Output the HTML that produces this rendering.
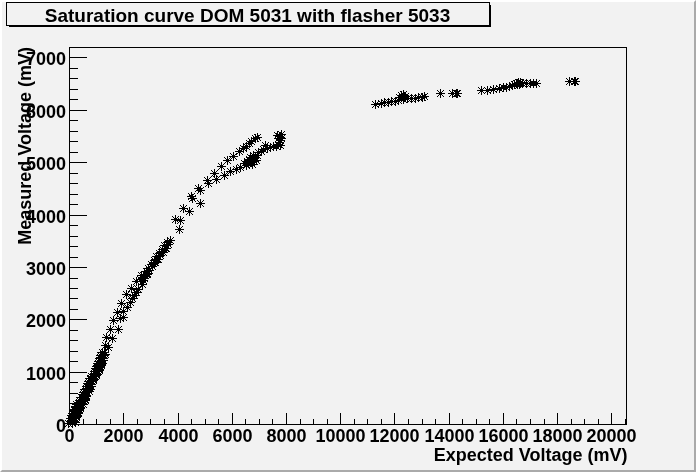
<!DOCTYPE html>
<html><head><meta charset="utf-8"><style>
html,body{margin:0;padding:0;background:#f2f2f2;}
svg{display:block;}
text{will-change:transform;}
text{font-family:"Liberation Sans",Arial,Helvetica,sans-serif;font-weight:bold;fill:#000;}
</style></head><body>
<svg width="696" height="472" viewBox="0 0 696 472">
<rect x="0" y="0" width="696" height="472" fill="#f2f2f2"/>
<path d="M0 0H696V2H2V472H0Z" fill="#ffffff"/>
<path d="M696 472H0L2 470H694V2L696 0Z" fill="#aaaaaa"/>
<path d="M9 26h482v1h-482zM490 5h1v22h-1z" fill="#000"/>
<rect x="6.5" y="2.5" width="483" height="23" fill="#f2f2f2" stroke="#000" stroke-width="1"/>
<text x="247.5" y="21.5" text-anchor="middle" style="font-size:19px">Saturation curve DOM 5031 with flasher 5033</text>
<g shape-rendering="crispEdges">
<path d="M69 47h1v378h-1zM626 47h1v378h-1zM69 47h558v1h-558zM69 424h558v1h-558zM69 413h1v11h-1zM83 419h1v5h-1zM96 419h1v5h-1zM110 419h1v5h-1zM123 413h1v11h-1zM137 419h1v5h-1zM150 419h1v5h-1zM164 419h1v5h-1zM178 413h1v11h-1zM191 419h1v5h-1zM205 419h1v5h-1zM218 419h1v5h-1zM232 413h1v11h-1zM245 419h1v5h-1zM259 419h1v5h-1zM272 419h1v5h-1zM286 413h1v11h-1zM300 419h1v5h-1zM313 419h1v5h-1zM327 419h1v5h-1zM340 413h1v11h-1zM354 419h1v5h-1zM367 419h1v5h-1zM381 419h1v5h-1zM394 413h1v11h-1zM408 419h1v5h-1zM422 419h1v5h-1zM435 419h1v5h-1zM449 413h1v11h-1zM462 419h1v5h-1zM476 419h1v5h-1zM489 419h1v5h-1zM503 413h1v11h-1zM516 419h1v5h-1zM530 419h1v5h-1zM544 419h1v5h-1zM557 413h1v11h-1zM571 419h1v5h-1zM584 419h1v5h-1zM598 419h1v5h-1zM611 413h1v11h-1zM625 419h1v5h-1zM69 424h18v1h-18zM69 414h9v1h-9zM69 403h9v1h-9zM69 393h9v1h-9zM69 382h9v1h-9zM69 372h18v1h-18zM69 361h9v1h-9zM69 351h9v1h-9zM69 340h9v1h-9zM69 330h9v1h-9zM69 319h18v1h-18zM69 309h9v1h-9zM69 298h9v1h-9zM69 288h9v1h-9zM69 278h9v1h-9zM69 267h18v1h-18zM69 257h9v1h-9zM69 246h9v1h-9zM69 236h9v1h-9zM69 225h9v1h-9zM69 215h18v1h-18zM69 204h9v1h-9zM69 194h9v1h-9zM69 183h9v1h-9zM69 173h9v1h-9zM69 162h18v1h-18zM69 152h9v1h-9zM69 141h9v1h-9zM69 131h9v1h-9zM69 120h9v1h-9zM69 110h18v1h-18zM69 99h9v1h-9zM69 89h9v1h-9zM69 78h9v1h-9zM69 68h9v1h-9zM69 57h18v1h-18zM69 47h9v1h-9z" fill="#000"/>
</g>
<g style="font-size:18px"><text x="69.5" y="442" text-anchor="middle">0</text><text x="123.5" y="442" text-anchor="middle">2000</text><text x="178.5" y="442" text-anchor="middle">4000</text><text x="232.5" y="442" text-anchor="middle">6000</text><text x="286.5" y="442" text-anchor="middle">8000</text><text x="340.5" y="442" text-anchor="middle">10000</text><text x="394.5" y="442" text-anchor="middle">12000</text><text x="449.5" y="442" text-anchor="middle">14000</text><text x="503.5" y="442" text-anchor="middle">16000</text><text x="557.5" y="442" text-anchor="middle">18000</text><text x="611.5" y="442" text-anchor="middle">20000</text><text x="66" y="431.5" text-anchor="end">0</text><text x="66" y="379.5" text-anchor="end">1000</text><text x="66" y="326.5" text-anchor="end">2000</text><text x="66" y="274.5" text-anchor="end">3000</text><text x="66" y="222.5" text-anchor="end">4000</text><text x="66" y="169.5" text-anchor="end">5000</text><text x="66" y="117.5" text-anchor="end">6000</text><text x="66" y="64.5" text-anchor="end">7000</text></g>
<text x="627.5" y="461" text-anchor="end" style="font-size:18px">Expected Voltage (mV)</text>
<text transform="translate(31,47) rotate(-90)" text-anchor="end" style="font-size:18px">Measured Voltage (mV)</text>
<g shape-rendering="crispEdges"><path d="M371 104h9v1h-9zM375 100h1v9h-1zM374 103h1v1h-1zM376 105h1v1h-1zM374 105h1v1h-1zM376 103h1v1h-1zM373 102h1v1h-1zM377 106h1v1h-1zM373 106h1v1h-1zM377 102h1v1h-1zM372 101h1v1h-1zM378 107h1v1h-1zM372 107h1v1h-1zM378 101h1v1h-1zM377 103h9v1h-9zM381 99h1v9h-1zM380 102h1v1h-1zM382 104h1v1h-1zM380 104h1v1h-1zM382 102h1v1h-1zM379 101h1v1h-1zM383 105h1v1h-1zM379 105h1v1h-1zM383 101h1v1h-1zM378 100h1v1h-1zM384 106h1v1h-1zM378 106h1v1h-1zM384 100h1v1h-1zM380 102h9v1h-9zM384 98h1v9h-1zM383 101h1v1h-1zM385 103h1v1h-1zM383 103h1v1h-1zM385 101h1v1h-1zM382 100h1v1h-1zM386 104h1v1h-1zM382 104h1v1h-1zM386 100h1v1h-1zM381 99h1v1h-1zM387 105h1v1h-1zM381 105h1v1h-1zM387 99h1v1h-1zM384 102h9v1h-9zM388 98h1v9h-1zM387 101h1v1h-1zM389 103h1v1h-1zM387 103h1v1h-1zM389 101h1v1h-1zM386 100h1v1h-1zM390 104h1v1h-1zM386 104h1v1h-1zM390 100h1v1h-1zM385 99h1v1h-1zM391 105h1v1h-1zM385 105h1v1h-1zM391 99h1v1h-1zM387 101h9v1h-9zM391 97h1v9h-1zM390 100h1v1h-1zM392 102h1v1h-1zM390 102h1v1h-1zM392 100h1v1h-1zM389 99h1v1h-1zM393 103h1v1h-1zM389 103h1v1h-1zM393 99h1v1h-1zM388 98h1v1h-1zM394 104h1v1h-1zM388 104h1v1h-1zM394 98h1v1h-1zM391 101h9v1h-9zM395 97h1v9h-1zM394 100h1v1h-1zM396 102h1v1h-1zM394 102h1v1h-1zM396 100h1v1h-1zM393 99h1v1h-1zM397 103h1v1h-1zM393 103h1v1h-1zM397 99h1v1h-1zM392 98h1v1h-1zM398 104h1v1h-1zM392 104h1v1h-1zM398 98h1v1h-1zM394 100h9v1h-9zM398 96h1v9h-1zM397 99h1v1h-1zM399 101h1v1h-1zM397 101h1v1h-1zM399 99h1v1h-1zM396 98h1v1h-1zM400 102h1v1h-1zM396 102h1v1h-1zM400 98h1v1h-1zM395 97h1v1h-1zM401 103h1v1h-1zM395 103h1v1h-1zM401 97h1v1h-1zM395 97h9v1h-9zM399 93h1v9h-1zM398 96h1v1h-1zM400 98h1v1h-1zM398 98h1v1h-1zM400 96h1v1h-1zM397 95h1v1h-1zM401 99h1v1h-1zM397 99h1v1h-1zM401 95h1v1h-1zM396 94h1v1h-1zM402 100h1v1h-1zM396 100h1v1h-1zM402 94h1v1h-1zM397 95h9v1h-9zM401 91h1v9h-1zM400 94h1v1h-1zM402 96h1v1h-1zM400 96h1v1h-1zM402 94h1v1h-1zM399 93h1v1h-1zM403 97h1v1h-1zM399 97h1v1h-1zM403 93h1v1h-1zM398 92h1v1h-1zM404 98h1v1h-1zM398 98h1v1h-1zM404 92h1v1h-1zM399 94h9v1h-9zM403 90h1v9h-1zM402 93h1v1h-1zM404 95h1v1h-1zM402 95h1v1h-1zM404 93h1v1h-1zM401 92h1v1h-1zM405 96h1v1h-1zM401 96h1v1h-1zM405 92h1v1h-1zM400 91h1v1h-1zM406 97h1v1h-1zM400 97h1v1h-1zM406 91h1v1h-1zM401 96h9v1h-9zM405 92h1v9h-1zM404 95h1v1h-1zM406 97h1v1h-1zM404 97h1v1h-1zM406 95h1v1h-1zM403 94h1v1h-1zM407 98h1v1h-1zM403 98h1v1h-1zM407 94h1v1h-1zM402 93h1v1h-1zM408 99h1v1h-1zM402 99h1v1h-1zM408 93h1v1h-1zM399 99h9v1h-9zM403 95h1v9h-1zM402 98h1v1h-1zM404 100h1v1h-1zM402 100h1v1h-1zM404 98h1v1h-1zM401 97h1v1h-1zM405 101h1v1h-1zM401 101h1v1h-1zM405 97h1v1h-1zM400 96h1v1h-1zM406 102h1v1h-1zM400 102h1v1h-1zM406 96h1v1h-1zM403 98h9v1h-9zM407 94h1v9h-1zM406 97h1v1h-1zM408 99h1v1h-1zM406 99h1v1h-1zM408 97h1v1h-1zM405 96h1v1h-1zM409 100h1v1h-1zM405 100h1v1h-1zM409 96h1v1h-1zM404 95h1v1h-1zM410 101h1v1h-1zM404 101h1v1h-1zM410 95h1v1h-1zM407 98h9v1h-9zM411 94h1v9h-1zM410 97h1v1h-1zM412 99h1v1h-1zM410 99h1v1h-1zM412 97h1v1h-1zM409 96h1v1h-1zM413 100h1v1h-1zM409 100h1v1h-1zM413 96h1v1h-1zM408 95h1v1h-1zM414 101h1v1h-1zM408 101h1v1h-1zM414 95h1v1h-1zM411 98h9v1h-9zM415 94h1v9h-1zM414 97h1v1h-1zM416 99h1v1h-1zM414 99h1v1h-1zM416 97h1v1h-1zM413 96h1v1h-1zM417 100h1v1h-1zM413 100h1v1h-1zM417 96h1v1h-1zM412 95h1v1h-1zM418 101h1v1h-1zM412 101h1v1h-1zM418 95h1v1h-1zM414 97h9v1h-9zM418 93h1v9h-1zM417 96h1v1h-1zM419 98h1v1h-1zM417 98h1v1h-1zM419 96h1v1h-1zM416 95h1v1h-1zM420 99h1v1h-1zM416 99h1v1h-1zM420 95h1v1h-1zM415 94h1v1h-1zM421 100h1v1h-1zM415 100h1v1h-1zM421 94h1v1h-1zM418 97h9v1h-9zM422 93h1v9h-1zM421 96h1v1h-1zM423 98h1v1h-1zM421 98h1v1h-1zM423 96h1v1h-1zM420 95h1v1h-1zM424 99h1v1h-1zM420 99h1v1h-1zM424 95h1v1h-1zM419 94h1v1h-1zM425 100h1v1h-1zM419 100h1v1h-1zM425 94h1v1h-1zM420 96h9v1h-9zM424 92h1v9h-1zM423 95h1v1h-1zM425 97h1v1h-1zM423 97h1v1h-1zM425 95h1v1h-1zM422 94h1v1h-1zM426 98h1v1h-1zM422 98h1v1h-1zM426 94h1v1h-1zM421 93h1v1h-1zM427 99h1v1h-1zM421 99h1v1h-1zM427 93h1v1h-1zM436 93h9v1h-9zM440 89h1v9h-1zM439 92h1v1h-1zM441 94h1v1h-1zM439 94h1v1h-1zM441 92h1v1h-1zM438 91h1v1h-1zM442 95h1v1h-1zM438 95h1v1h-1zM442 91h1v1h-1zM437 90h1v1h-1zM443 96h1v1h-1zM437 96h1v1h-1zM443 90h1v1h-1zM448 93h9v1h-9zM452 89h1v9h-1zM451 92h1v1h-1zM453 94h1v1h-1zM451 94h1v1h-1zM453 92h1v1h-1zM450 91h1v1h-1zM454 95h1v1h-1zM450 95h1v1h-1zM454 91h1v1h-1zM449 90h1v1h-1zM455 96h1v1h-1zM449 96h1v1h-1zM455 90h1v1h-1zM452 93h9v1h-9zM456 89h1v9h-1zM455 92h1v1h-1zM457 94h1v1h-1zM455 94h1v1h-1zM457 92h1v1h-1zM454 91h1v1h-1zM458 95h1v1h-1zM454 95h1v1h-1zM458 91h1v1h-1zM453 90h1v1h-1zM459 96h1v1h-1zM453 96h1v1h-1zM459 90h1v1h-1zM453 93h9v1h-9zM457 89h1v9h-1zM456 92h1v1h-1zM458 94h1v1h-1zM456 94h1v1h-1zM458 92h1v1h-1zM455 91h1v1h-1zM459 95h1v1h-1zM455 95h1v1h-1zM459 91h1v1h-1zM454 90h1v1h-1zM460 96h1v1h-1zM454 96h1v1h-1zM460 90h1v1h-1zM477 90h9v1h-9zM481 86h1v9h-1zM480 89h1v1h-1zM482 91h1v1h-1zM480 91h1v1h-1zM482 89h1v1h-1zM479 88h1v1h-1zM483 92h1v1h-1zM479 92h1v1h-1zM483 88h1v1h-1zM478 87h1v1h-1zM484 93h1v1h-1zM478 93h1v1h-1zM484 87h1v1h-1zM483 90h9v1h-9zM487 86h1v9h-1zM486 89h1v1h-1zM488 91h1v1h-1zM486 91h1v1h-1zM488 89h1v1h-1zM485 88h1v1h-1zM489 92h1v1h-1zM485 92h1v1h-1zM489 88h1v1h-1zM484 87h1v1h-1zM490 93h1v1h-1zM484 93h1v1h-1zM490 87h1v1h-1zM489 89h9v1h-9zM493 85h1v9h-1zM492 88h1v1h-1zM494 90h1v1h-1zM492 90h1v1h-1zM494 88h1v1h-1zM491 87h1v1h-1zM495 91h1v1h-1zM491 91h1v1h-1zM495 87h1v1h-1zM490 86h1v1h-1zM496 92h1v1h-1zM490 92h1v1h-1zM496 86h1v1h-1zM495 88h9v1h-9zM499 84h1v9h-1zM498 87h1v1h-1zM500 89h1v1h-1zM498 89h1v1h-1zM500 87h1v1h-1zM497 86h1v1h-1zM501 90h1v1h-1zM497 90h1v1h-1zM501 86h1v1h-1zM496 85h1v1h-1zM502 91h1v1h-1zM496 91h1v1h-1zM502 85h1v1h-1zM499 87h9v1h-9zM503 83h1v9h-1zM502 86h1v1h-1zM504 88h1v1h-1zM502 88h1v1h-1zM504 86h1v1h-1zM501 85h1v1h-1zM505 89h1v1h-1zM501 89h1v1h-1zM505 85h1v1h-1zM500 84h1v1h-1zM506 90h1v1h-1zM500 90h1v1h-1zM506 84h1v1h-1zM502 87h9v1h-9zM506 83h1v9h-1zM505 86h1v1h-1zM507 88h1v1h-1zM505 88h1v1h-1zM507 86h1v1h-1zM504 85h1v1h-1zM508 89h1v1h-1zM504 89h1v1h-1zM508 85h1v1h-1zM503 84h1v1h-1zM509 90h1v1h-1zM503 90h1v1h-1zM509 84h1v1h-1zM505 86h9v1h-9zM509 82h1v9h-1zM508 85h1v1h-1zM510 87h1v1h-1zM508 87h1v1h-1zM510 85h1v1h-1zM507 84h1v1h-1zM511 88h1v1h-1zM507 88h1v1h-1zM511 84h1v1h-1zM506 83h1v1h-1zM512 89h1v1h-1zM506 89h1v1h-1zM512 83h1v1h-1zM508 85h9v1h-9zM512 81h1v9h-1zM511 84h1v1h-1zM513 86h1v1h-1zM511 86h1v1h-1zM513 84h1v1h-1zM510 83h1v1h-1zM514 87h1v1h-1zM510 87h1v1h-1zM514 83h1v1h-1zM509 82h1v1h-1zM515 88h1v1h-1zM509 88h1v1h-1zM515 82h1v1h-1zM510 84h9v1h-9zM514 80h1v9h-1zM513 83h1v1h-1zM515 85h1v1h-1zM513 85h1v1h-1zM515 83h1v1h-1zM512 82h1v1h-1zM516 86h1v1h-1zM512 86h1v1h-1zM516 82h1v1h-1zM511 81h1v1h-1zM517 87h1v1h-1zM511 87h1v1h-1zM517 81h1v1h-1zM512 83h9v1h-9zM516 79h1v9h-1zM515 82h1v1h-1zM517 84h1v1h-1zM515 84h1v1h-1zM517 82h1v1h-1zM514 81h1v1h-1zM518 85h1v1h-1zM514 85h1v1h-1zM518 81h1v1h-1zM513 80h1v1h-1zM519 86h1v1h-1zM513 86h1v1h-1zM519 80h1v1h-1zM514 82h9v1h-9zM518 78h1v9h-1zM517 81h1v1h-1zM519 83h1v1h-1zM517 83h1v1h-1zM519 81h1v1h-1zM516 80h1v1h-1zM520 84h1v1h-1zM516 84h1v1h-1zM520 80h1v1h-1zM515 79h1v1h-1zM521 85h1v1h-1zM515 85h1v1h-1zM521 79h1v1h-1zM516 82h9v1h-9zM520 78h1v9h-1zM519 81h1v1h-1zM521 83h1v1h-1zM519 83h1v1h-1zM521 81h1v1h-1zM518 80h1v1h-1zM522 84h1v1h-1zM518 84h1v1h-1zM522 80h1v1h-1zM517 79h1v1h-1zM523 85h1v1h-1zM517 85h1v1h-1zM523 79h1v1h-1zM513 84h9v1h-9zM517 80h1v9h-1zM516 83h1v1h-1zM518 85h1v1h-1zM516 85h1v1h-1zM518 83h1v1h-1zM515 82h1v1h-1zM519 86h1v1h-1zM515 86h1v1h-1zM519 82h1v1h-1zM514 81h1v1h-1zM520 87h1v1h-1zM514 87h1v1h-1zM520 81h1v1h-1zM515 84h9v1h-9zM519 80h1v9h-1zM518 83h1v1h-1zM520 85h1v1h-1zM518 85h1v1h-1zM520 83h1v1h-1zM517 82h1v1h-1zM521 86h1v1h-1zM517 86h1v1h-1zM521 82h1v1h-1zM516 81h1v1h-1zM522 87h1v1h-1zM516 87h1v1h-1zM522 81h1v1h-1zM518 83h9v1h-9zM522 79h1v9h-1zM521 82h1v1h-1zM523 84h1v1h-1zM521 84h1v1h-1zM523 82h1v1h-1zM520 81h1v1h-1zM524 85h1v1h-1zM520 85h1v1h-1zM524 81h1v1h-1zM519 80h1v1h-1zM525 86h1v1h-1zM519 86h1v1h-1zM525 80h1v1h-1zM522 83h9v1h-9zM526 79h1v9h-1zM525 82h1v1h-1zM527 84h1v1h-1zM525 84h1v1h-1zM527 82h1v1h-1zM524 81h1v1h-1zM528 85h1v1h-1zM524 85h1v1h-1zM528 81h1v1h-1zM523 80h1v1h-1zM529 86h1v1h-1zM523 86h1v1h-1zM529 80h1v1h-1zM526 83h9v1h-9zM530 79h1v9h-1zM529 82h1v1h-1zM531 84h1v1h-1zM529 84h1v1h-1zM531 82h1v1h-1zM528 81h1v1h-1zM532 85h1v1h-1zM528 85h1v1h-1zM532 81h1v1h-1zM527 80h1v1h-1zM533 86h1v1h-1zM527 86h1v1h-1zM533 80h1v1h-1zM529 83h9v1h-9zM533 79h1v9h-1zM532 82h1v1h-1zM534 84h1v1h-1zM532 84h1v1h-1zM534 82h1v1h-1zM531 81h1v1h-1zM535 85h1v1h-1zM531 85h1v1h-1zM535 81h1v1h-1zM530 80h1v1h-1zM536 86h1v1h-1zM530 86h1v1h-1zM536 80h1v1h-1zM532 83h9v1h-9zM536 79h1v9h-1zM535 82h1v1h-1zM537 84h1v1h-1zM535 84h1v1h-1zM537 82h1v1h-1zM534 81h1v1h-1zM538 85h1v1h-1zM534 85h1v1h-1zM538 81h1v1h-1zM533 80h1v1h-1zM539 86h1v1h-1zM533 86h1v1h-1zM539 80h1v1h-1zM565 81h9v1h-9zM569 77h1v9h-1zM568 80h1v1h-1zM570 82h1v1h-1zM568 82h1v1h-1zM570 80h1v1h-1zM567 79h1v1h-1zM571 83h1v1h-1zM567 83h1v1h-1zM571 79h1v1h-1zM566 78h1v1h-1zM572 84h1v1h-1zM566 84h1v1h-1zM572 78h1v1h-1zM570 81h9v1h-9zM574 77h1v9h-1zM573 80h1v1h-1zM575 82h1v1h-1zM573 82h1v1h-1zM575 80h1v1h-1zM572 79h1v1h-1zM576 83h1v1h-1zM572 83h1v1h-1zM576 79h1v1h-1zM571 78h1v1h-1zM577 84h1v1h-1zM571 84h1v1h-1zM577 78h1v1h-1zM571 81h9v1h-9zM575 77h1v9h-1zM574 80h1v1h-1zM576 82h1v1h-1zM574 82h1v1h-1zM576 80h1v1h-1zM573 79h1v1h-1zM577 83h1v1h-1zM573 83h1v1h-1zM577 79h1v1h-1zM572 78h1v1h-1zM578 84h1v1h-1zM572 84h1v1h-1zM578 78h1v1h-1zM171 219h9v1h-9zM175 215h1v9h-1zM174 218h1v1h-1zM176 220h1v1h-1zM174 220h1v1h-1zM176 218h1v1h-1zM173 217h1v1h-1zM177 221h1v1h-1zM173 221h1v1h-1zM177 217h1v1h-1zM172 216h1v1h-1zM178 222h1v1h-1zM172 222h1v1h-1zM178 216h1v1h-1zM176 220h9v1h-9zM180 216h1v9h-1zM179 219h1v1h-1zM181 221h1v1h-1zM179 221h1v1h-1zM181 219h1v1h-1zM178 218h1v1h-1zM182 222h1v1h-1zM178 222h1v1h-1zM182 218h1v1h-1zM177 217h1v1h-1zM183 223h1v1h-1zM177 223h1v1h-1zM183 217h1v1h-1zM175 229h9v1h-9zM179 225h1v9h-1zM178 228h1v1h-1zM180 230h1v1h-1zM178 230h1v1h-1zM180 228h1v1h-1zM177 227h1v1h-1zM181 231h1v1h-1zM177 231h1v1h-1zM181 227h1v1h-1zM176 226h1v1h-1zM182 232h1v1h-1zM176 232h1v1h-1zM182 226h1v1h-1zM179 208h9v1h-9zM183 204h1v9h-1zM182 207h1v1h-1zM184 209h1v1h-1zM182 209h1v1h-1zM184 207h1v1h-1zM181 206h1v1h-1zM185 210h1v1h-1zM181 210h1v1h-1zM185 206h1v1h-1zM180 205h1v1h-1zM186 211h1v1h-1zM180 211h1v1h-1zM186 205h1v1h-1zM185 211h9v1h-9zM189 207h1v9h-1zM188 210h1v1h-1zM190 212h1v1h-1zM188 212h1v1h-1zM190 210h1v1h-1zM187 209h1v1h-1zM191 213h1v1h-1zM187 213h1v1h-1zM191 209h1v1h-1zM186 208h1v1h-1zM192 214h1v1h-1zM186 214h1v1h-1zM192 208h1v1h-1zM187 196h9v1h-9zM191 192h1v9h-1zM190 195h1v1h-1zM192 197h1v1h-1zM190 197h1v1h-1zM192 195h1v1h-1zM189 194h1v1h-1zM193 198h1v1h-1zM189 198h1v1h-1zM193 194h1v1h-1zM188 193h1v1h-1zM194 199h1v1h-1zM188 199h1v1h-1zM194 193h1v1h-1zM188 198h9v1h-9zM192 194h1v9h-1zM191 197h1v1h-1zM193 199h1v1h-1zM191 199h1v1h-1zM193 197h1v1h-1zM190 196h1v1h-1zM194 200h1v1h-1zM190 200h1v1h-1zM194 196h1v1h-1zM189 195h1v1h-1zM195 201h1v1h-1zM189 201h1v1h-1zM195 195h1v1h-1zM196 203h9v1h-9zM200 199h1v9h-1zM199 202h1v1h-1zM201 204h1v1h-1zM199 204h1v1h-1zM201 202h1v1h-1zM198 201h1v1h-1zM202 205h1v1h-1zM198 205h1v1h-1zM202 201h1v1h-1zM197 200h1v1h-1zM203 206h1v1h-1zM197 206h1v1h-1zM203 200h1v1h-1zM194 188h9v1h-9zM198 184h1v9h-1zM197 187h1v1h-1zM199 189h1v1h-1zM197 189h1v1h-1zM199 187h1v1h-1zM196 186h1v1h-1zM200 190h1v1h-1zM196 190h1v1h-1zM200 186h1v1h-1zM195 185h1v1h-1zM201 191h1v1h-1zM195 191h1v1h-1zM201 185h1v1h-1zM196 190h9v1h-9zM200 186h1v9h-1zM199 189h1v1h-1zM201 191h1v1h-1zM199 191h1v1h-1zM201 189h1v1h-1zM198 188h1v1h-1zM202 192h1v1h-1zM198 192h1v1h-1zM202 188h1v1h-1zM197 187h1v1h-1zM203 193h1v1h-1zM197 193h1v1h-1zM203 187h1v1h-1zM203 180h9v1h-9zM207 176h1v9h-1zM206 179h1v1h-1zM208 181h1v1h-1zM206 181h1v1h-1zM208 179h1v1h-1zM205 178h1v1h-1zM209 182h1v1h-1zM205 182h1v1h-1zM209 178h1v1h-1zM204 177h1v1h-1zM210 183h1v1h-1zM204 183h1v1h-1zM210 177h1v1h-1zM204 183h9v1h-9zM208 179h1v9h-1zM207 182h1v1h-1zM209 184h1v1h-1zM207 184h1v1h-1zM209 182h1v1h-1zM206 181h1v1h-1zM210 185h1v1h-1zM206 185h1v1h-1zM210 181h1v1h-1zM205 180h1v1h-1zM211 186h1v1h-1zM205 186h1v1h-1zM211 180h1v1h-1zM210 173h9v1h-9zM214 169h1v9h-1zM213 172h1v1h-1zM215 174h1v1h-1zM213 174h1v1h-1zM215 172h1v1h-1zM212 171h1v1h-1zM216 175h1v1h-1zM212 175h1v1h-1zM216 171h1v1h-1zM211 170h1v1h-1zM217 176h1v1h-1zM211 176h1v1h-1zM217 170h1v1h-1zM212 179h9v1h-9zM216 175h1v9h-1zM215 178h1v1h-1zM217 180h1v1h-1zM215 180h1v1h-1zM217 178h1v1h-1zM214 177h1v1h-1zM218 181h1v1h-1zM214 181h1v1h-1zM218 177h1v1h-1zM213 176h1v1h-1zM219 182h1v1h-1zM213 182h1v1h-1zM219 176h1v1h-1zM217 166h9v1h-9zM221 162h1v9h-1zM220 165h1v1h-1zM222 167h1v1h-1zM220 167h1v1h-1zM222 165h1v1h-1zM219 164h1v1h-1zM223 168h1v1h-1zM219 168h1v1h-1zM223 164h1v1h-1zM218 163h1v1h-1zM224 169h1v1h-1zM218 169h1v1h-1zM224 163h1v1h-1zM220 175h9v1h-9zM224 171h1v9h-1zM223 174h1v1h-1zM225 176h1v1h-1zM223 176h1v1h-1zM225 174h1v1h-1zM222 173h1v1h-1zM226 177h1v1h-1zM222 177h1v1h-1zM226 173h1v1h-1zM221 172h1v1h-1zM227 178h1v1h-1zM221 178h1v1h-1zM227 172h1v1h-1zM223 160h9v1h-9zM227 156h1v9h-1zM226 159h1v1h-1zM228 161h1v1h-1zM226 161h1v1h-1zM228 159h1v1h-1zM225 158h1v1h-1zM229 162h1v1h-1zM225 162h1v1h-1zM229 158h1v1h-1zM224 157h1v1h-1zM230 163h1v1h-1zM224 163h1v1h-1zM230 157h1v1h-1zM226 171h9v1h-9zM230 167h1v9h-1zM229 170h1v1h-1zM231 172h1v1h-1zM229 172h1v1h-1zM231 170h1v1h-1zM228 169h1v1h-1zM232 173h1v1h-1zM228 173h1v1h-1zM232 169h1v1h-1zM227 168h1v1h-1zM233 174h1v1h-1zM227 174h1v1h-1zM233 168h1v1h-1zM229 156h9v1h-9zM233 152h1v9h-1zM232 155h1v1h-1zM234 157h1v1h-1zM232 157h1v1h-1zM234 155h1v1h-1zM231 154h1v1h-1zM235 158h1v1h-1zM231 158h1v1h-1zM235 154h1v1h-1zM230 153h1v1h-1zM236 159h1v1h-1zM230 159h1v1h-1zM236 153h1v1h-1zM232 169h9v1h-9zM236 165h1v9h-1zM235 168h1v1h-1zM237 170h1v1h-1zM235 170h1v1h-1zM237 168h1v1h-1zM234 167h1v1h-1zM238 171h1v1h-1zM234 171h1v1h-1zM238 167h1v1h-1zM233 166h1v1h-1zM239 172h1v1h-1zM233 172h1v1h-1zM239 166h1v1h-1zM235 151h9v1h-9zM239 147h1v9h-1zM238 150h1v1h-1zM240 152h1v1h-1zM238 152h1v1h-1zM240 150h1v1h-1zM237 149h1v1h-1zM241 153h1v1h-1zM237 153h1v1h-1zM241 149h1v1h-1zM236 148h1v1h-1zM242 154h1v1h-1zM236 154h1v1h-1zM242 148h1v1h-1zM236 167h9v1h-9zM240 163h1v9h-1zM239 166h1v1h-1zM241 168h1v1h-1zM239 168h1v1h-1zM241 166h1v1h-1zM238 165h1v1h-1zM242 169h1v1h-1zM238 169h1v1h-1zM242 165h1v1h-1zM237 164h1v1h-1zM243 170h1v1h-1zM237 170h1v1h-1zM243 164h1v1h-1zM239 148h9v1h-9zM243 144h1v9h-1zM242 147h1v1h-1zM244 149h1v1h-1zM242 149h1v1h-1zM244 147h1v1h-1zM241 146h1v1h-1zM245 150h1v1h-1zM241 150h1v1h-1zM245 146h1v1h-1zM240 145h1v1h-1zM246 151h1v1h-1zM240 151h1v1h-1zM246 145h1v1h-1zM242 146h9v1h-9zM246 142h1v9h-1zM245 145h1v1h-1zM247 147h1v1h-1zM245 147h1v1h-1zM247 145h1v1h-1zM244 144h1v1h-1zM248 148h1v1h-1zM244 148h1v1h-1zM248 144h1v1h-1zM243 143h1v1h-1zM249 149h1v1h-1zM243 149h1v1h-1zM249 143h1v1h-1zM245 143h9v1h-9zM249 139h1v9h-1zM248 142h1v1h-1zM250 144h1v1h-1zM248 144h1v1h-1zM250 142h1v1h-1zM247 141h1v1h-1zM251 145h1v1h-1zM247 145h1v1h-1zM251 141h1v1h-1zM246 140h1v1h-1zM252 146h1v1h-1zM246 146h1v1h-1zM252 140h1v1h-1zM247 141h9v1h-9zM251 137h1v9h-1zM250 140h1v1h-1zM252 142h1v1h-1zM250 142h1v1h-1zM252 140h1v1h-1zM249 139h1v1h-1zM253 143h1v1h-1zM249 143h1v1h-1zM253 139h1v1h-1zM248 138h1v1h-1zM254 144h1v1h-1zM248 144h1v1h-1zM254 138h1v1h-1zM251 138h9v1h-9zM255 134h1v9h-1zM254 137h1v1h-1zM256 139h1v1h-1zM254 139h1v1h-1zM256 137h1v1h-1zM253 136h1v1h-1zM257 140h1v1h-1zM253 140h1v1h-1zM257 136h1v1h-1zM252 135h1v1h-1zM258 141h1v1h-1zM252 141h1v1h-1zM258 135h1v1h-1zM253 137h9v1h-9zM257 133h1v9h-1zM256 136h1v1h-1zM258 138h1v1h-1zM256 138h1v1h-1zM258 136h1v1h-1zM255 135h1v1h-1zM259 139h1v1h-1zM255 139h1v1h-1zM259 135h1v1h-1zM254 134h1v1h-1zM260 140h1v1h-1zM254 140h1v1h-1zM260 134h1v1h-1zM240 163h9v1h-9zM244 159h1v9h-1zM243 162h1v1h-1zM245 164h1v1h-1zM243 164h1v1h-1zM245 162h1v1h-1zM242 161h1v1h-1zM246 165h1v1h-1zM242 165h1v1h-1zM246 161h1v1h-1zM241 160h1v1h-1zM247 166h1v1h-1zM241 166h1v1h-1zM247 160h1v1h-1zM242 165h9v1h-9zM246 161h1v9h-1zM245 164h1v1h-1zM247 166h1v1h-1zM245 166h1v1h-1zM247 164h1v1h-1zM244 163h1v1h-1zM248 167h1v1h-1zM244 167h1v1h-1zM248 163h1v1h-1zM243 162h1v1h-1zM249 168h1v1h-1zM243 168h1v1h-1zM249 162h1v1h-1zM243 161h9v1h-9zM247 157h1v9h-1zM246 160h1v1h-1zM248 162h1v1h-1zM246 162h1v1h-1zM248 160h1v1h-1zM245 159h1v1h-1zM249 163h1v1h-1zM245 163h1v1h-1zM249 159h1v1h-1zM244 158h1v1h-1zM250 164h1v1h-1zM244 164h1v1h-1zM250 158h1v1h-1zM244 163h9v1h-9zM248 159h1v9h-1zM247 162h1v1h-1zM249 164h1v1h-1zM247 164h1v1h-1zM249 162h1v1h-1zM246 161h1v1h-1zM250 165h1v1h-1zM246 165h1v1h-1zM250 161h1v1h-1zM245 160h1v1h-1zM251 166h1v1h-1zM245 166h1v1h-1zM251 160h1v1h-1zM245 159h9v1h-9zM249 155h1v9h-1zM248 158h1v1h-1zM250 160h1v1h-1zM248 160h1v1h-1zM250 158h1v1h-1zM247 157h1v1h-1zM251 161h1v1h-1zM247 161h1v1h-1zM251 157h1v1h-1zM246 156h1v1h-1zM252 162h1v1h-1zM246 162h1v1h-1zM252 156h1v1h-1zM246 162h9v1h-9zM250 158h1v9h-1zM249 161h1v1h-1zM251 163h1v1h-1zM249 163h1v1h-1zM251 161h1v1h-1zM248 160h1v1h-1zM252 164h1v1h-1zM248 164h1v1h-1zM252 160h1v1h-1zM247 159h1v1h-1zM253 165h1v1h-1zM247 165h1v1h-1zM253 159h1v1h-1zM247 160h9v1h-9zM251 156h1v9h-1zM250 159h1v1h-1zM252 161h1v1h-1zM250 161h1v1h-1zM252 159h1v1h-1zM249 158h1v1h-1zM253 162h1v1h-1zM249 162h1v1h-1zM253 158h1v1h-1zM248 157h1v1h-1zM254 163h1v1h-1zM248 163h1v1h-1zM254 157h1v1h-1zM248 164h9v1h-9zM252 160h1v9h-1zM251 163h1v1h-1zM253 165h1v1h-1zM251 165h1v1h-1zM253 163h1v1h-1zM250 162h1v1h-1zM254 166h1v1h-1zM250 166h1v1h-1zM254 162h1v1h-1zM249 161h1v1h-1zM255 167h1v1h-1zM249 167h1v1h-1zM255 161h1v1h-1zM249 158h9v1h-9zM253 154h1v9h-1zM252 157h1v1h-1zM254 159h1v1h-1zM252 159h1v1h-1zM254 157h1v1h-1zM251 156h1v1h-1zM255 160h1v1h-1zM251 160h1v1h-1zM255 156h1v1h-1zM250 155h1v1h-1zM256 161h1v1h-1zM250 161h1v1h-1zM256 155h1v1h-1zM250 161h9v1h-9zM254 157h1v9h-1zM253 160h1v1h-1zM255 162h1v1h-1zM253 162h1v1h-1zM255 160h1v1h-1zM252 159h1v1h-1zM256 163h1v1h-1zM252 163h1v1h-1zM256 159h1v1h-1zM251 158h1v1h-1zM257 164h1v1h-1zM251 164h1v1h-1zM257 158h1v1h-1zM251 157h9v1h-9zM255 153h1v9h-1zM254 156h1v1h-1zM256 158h1v1h-1zM254 158h1v1h-1zM256 156h1v1h-1zM253 155h1v1h-1zM257 159h1v1h-1zM253 159h1v1h-1zM257 155h1v1h-1zM252 154h1v1h-1zM258 160h1v1h-1zM252 160h1v1h-1zM258 154h1v1h-1zM252 160h9v1h-9zM256 156h1v9h-1zM255 159h1v1h-1zM257 161h1v1h-1zM255 161h1v1h-1zM257 159h1v1h-1zM254 158h1v1h-1zM258 162h1v1h-1zM254 162h1v1h-1zM258 158h1v1h-1zM253 157h1v1h-1zM259 163h1v1h-1zM253 163h1v1h-1zM259 157h1v1h-1zM253 155h9v1h-9zM257 151h1v9h-1zM256 154h1v1h-1zM258 156h1v1h-1zM256 156h1v1h-1zM258 154h1v1h-1zM255 153h1v1h-1zM259 157h1v1h-1zM255 157h1v1h-1zM259 153h1v1h-1zM254 152h1v1h-1zM260 158h1v1h-1zM254 158h1v1h-1zM260 152h1v1h-1zM249 155h9v1h-9zM253 151h1v9h-1zM252 154h1v1h-1zM254 156h1v1h-1zM252 156h1v1h-1zM254 154h1v1h-1zM251 153h1v1h-1zM255 157h1v1h-1zM251 157h1v1h-1zM255 153h1v1h-1zM250 152h1v1h-1zM256 158h1v1h-1zM250 158h1v1h-1zM256 152h1v1h-1zM246 157h9v1h-9zM250 153h1v9h-1zM249 156h1v1h-1zM251 158h1v1h-1zM249 158h1v1h-1zM251 156h1v1h-1zM248 155h1v1h-1zM252 159h1v1h-1zM248 159h1v1h-1zM252 155h1v1h-1zM247 154h1v1h-1zM253 160h1v1h-1zM247 160h1v1h-1zM253 154h1v1h-1zM254 152h9v1h-9zM258 148h1v9h-1zM257 151h1v1h-1zM259 153h1v1h-1zM257 153h1v1h-1zM259 151h1v1h-1zM256 150h1v1h-1zM260 154h1v1h-1zM256 154h1v1h-1zM260 150h1v1h-1zM255 149h1v1h-1zM261 155h1v1h-1zM255 155h1v1h-1zM261 149h1v1h-1zM257 151h9v1h-9zM261 147h1v9h-1zM260 150h1v1h-1zM262 152h1v1h-1zM260 152h1v1h-1zM262 150h1v1h-1zM259 149h1v1h-1zM263 153h1v1h-1zM259 153h1v1h-1zM263 149h1v1h-1zM258 148h1v1h-1zM264 154h1v1h-1zM258 154h1v1h-1zM264 148h1v1h-1zM259 149h9v1h-9zM263 145h1v9h-1zM262 148h1v1h-1zM264 150h1v1h-1zM262 150h1v1h-1zM264 148h1v1h-1zM261 147h1v1h-1zM265 151h1v1h-1zM261 151h1v1h-1zM265 147h1v1h-1zM260 146h1v1h-1zM266 152h1v1h-1zM260 152h1v1h-1zM266 146h1v1h-1zM261 145h9v1h-9zM265 141h1v9h-1zM264 144h1v1h-1zM266 146h1v1h-1zM264 146h1v1h-1zM266 144h1v1h-1zM263 143h1v1h-1zM267 147h1v1h-1zM263 147h1v1h-1zM267 143h1v1h-1zM262 142h1v1h-1zM268 148h1v1h-1zM262 148h1v1h-1zM268 142h1v1h-1zM263 148h9v1h-9zM267 144h1v9h-1zM266 147h1v1h-1zM268 149h1v1h-1zM266 149h1v1h-1zM268 147h1v1h-1zM265 146h1v1h-1zM269 150h1v1h-1zM265 150h1v1h-1zM269 146h1v1h-1zM264 145h1v1h-1zM270 151h1v1h-1zM264 151h1v1h-1zM270 145h1v1h-1zM266 147h9v1h-9zM270 143h1v9h-1zM269 146h1v1h-1zM271 148h1v1h-1zM269 148h1v1h-1zM271 146h1v1h-1zM268 145h1v1h-1zM272 149h1v1h-1zM268 149h1v1h-1zM272 145h1v1h-1zM267 144h1v1h-1zM273 150h1v1h-1zM267 150h1v1h-1zM273 144h1v1h-1zM269 146h9v1h-9zM273 142h1v9h-1zM272 145h1v1h-1zM274 147h1v1h-1zM272 147h1v1h-1zM274 145h1v1h-1zM271 144h1v1h-1zM275 148h1v1h-1zM271 148h1v1h-1zM275 144h1v1h-1zM270 143h1v1h-1zM276 149h1v1h-1zM270 149h1v1h-1zM276 143h1v1h-1zM272 146h9v1h-9zM276 142h1v9h-1zM275 145h1v1h-1zM277 147h1v1h-1zM275 147h1v1h-1zM277 145h1v1h-1zM274 144h1v1h-1zM278 148h1v1h-1zM274 148h1v1h-1zM278 144h1v1h-1zM273 143h1v1h-1zM279 149h1v1h-1zM273 149h1v1h-1zM279 143h1v1h-1zM274 144h9v1h-9zM278 140h1v9h-1zM277 143h1v1h-1zM279 145h1v1h-1zM277 145h1v1h-1zM279 143h1v1h-1zM276 142h1v1h-1zM280 146h1v1h-1zM276 146h1v1h-1zM280 142h1v1h-1zM275 141h1v1h-1zM281 147h1v1h-1zM275 147h1v1h-1zM281 141h1v1h-1zM276 145h9v1h-9zM280 141h1v9h-1zM279 144h1v1h-1zM281 146h1v1h-1zM279 146h1v1h-1zM281 144h1v1h-1zM278 143h1v1h-1zM282 147h1v1h-1zM278 147h1v1h-1zM282 143h1v1h-1zM277 142h1v1h-1zM283 148h1v1h-1zM277 148h1v1h-1zM283 142h1v1h-1zM275 142h9v1h-9zM279 138h1v9h-1zM278 141h1v1h-1zM280 143h1v1h-1zM278 143h1v1h-1zM280 141h1v1h-1zM277 140h1v1h-1zM281 144h1v1h-1zM277 144h1v1h-1zM281 140h1v1h-1zM276 139h1v1h-1zM282 145h1v1h-1zM276 145h1v1h-1zM282 139h1v1h-1zM276 140h9v1h-9zM280 136h1v9h-1zM279 139h1v1h-1zM281 141h1v1h-1zM279 141h1v1h-1zM281 139h1v1h-1zM278 138h1v1h-1zM282 142h1v1h-1zM278 142h1v1h-1zM282 138h1v1h-1zM277 137h1v1h-1zM283 143h1v1h-1zM277 143h1v1h-1zM283 137h1v1h-1zM274 138h9v1h-9zM278 134h1v9h-1zM277 137h1v1h-1zM279 139h1v1h-1zM277 139h1v1h-1zM279 137h1v1h-1zM276 136h1v1h-1zM280 140h1v1h-1zM276 140h1v1h-1zM280 136h1v1h-1zM275 135h1v1h-1zM281 141h1v1h-1zM275 141h1v1h-1zM281 135h1v1h-1zM277 138h9v1h-9zM281 134h1v9h-1zM280 137h1v1h-1zM282 139h1v1h-1zM280 139h1v1h-1zM282 137h1v1h-1zM279 136h1v1h-1zM283 140h1v1h-1zM279 140h1v1h-1zM283 136h1v1h-1zM278 135h1v1h-1zM284 141h1v1h-1zM278 141h1v1h-1zM284 135h1v1h-1zM275 136h9v1h-9zM279 132h1v9h-1zM278 135h1v1h-1zM280 137h1v1h-1zM278 137h1v1h-1zM280 135h1v1h-1zM277 134h1v1h-1zM281 138h1v1h-1zM277 138h1v1h-1zM281 134h1v1h-1zM276 133h1v1h-1zM282 139h1v1h-1zM276 139h1v1h-1zM282 133h1v1h-1zM273 135h9v1h-9zM277 131h1v9h-1zM276 134h1v1h-1zM278 136h1v1h-1zM276 136h1v1h-1zM278 134h1v1h-1zM275 133h1v1h-1zM279 137h1v1h-1zM275 137h1v1h-1zM279 133h1v1h-1zM274 132h1v1h-1zM280 138h1v1h-1zM274 138h1v1h-1zM280 132h1v1h-1zM277 134h9v1h-9zM281 130h1v9h-1zM280 133h1v1h-1zM282 135h1v1h-1zM280 135h1v1h-1zM282 133h1v1h-1zM279 132h1v1h-1zM283 136h1v1h-1zM279 136h1v1h-1zM283 132h1v1h-1zM278 131h1v1h-1zM284 137h1v1h-1zM278 137h1v1h-1zM284 131h1v1h-1zM64 423h9v1h-9zM68 419h1v9h-1zM67 422h1v1h-1zM69 424h1v1h-1zM67 424h1v1h-1zM69 422h1v1h-1zM66 421h1v1h-1zM70 425h1v1h-1zM66 425h1v1h-1zM70 421h1v1h-1zM65 420h1v1h-1zM71 426h1v1h-1zM65 426h1v1h-1zM71 420h1v1h-1zM71 422h9v1h-9zM75 418h1v9h-1zM74 421h1v1h-1zM76 423h1v1h-1zM74 423h1v1h-1zM76 421h1v1h-1zM73 420h1v1h-1zM77 424h1v1h-1zM73 424h1v1h-1zM77 420h1v1h-1zM72 419h1v1h-1zM78 425h1v1h-1zM72 425h1v1h-1zM78 419h1v1h-1zM68 423h9v1h-9zM72 419h1v9h-1zM71 422h1v1h-1zM73 424h1v1h-1zM71 424h1v1h-1zM73 422h1v1h-1zM70 421h1v1h-1zM74 425h1v1h-1zM70 425h1v1h-1zM74 421h1v1h-1zM69 420h1v1h-1zM75 426h1v1h-1zM69 426h1v1h-1zM75 420h1v1h-1zM67 420h9v1h-9zM71 416h1v9h-1zM70 419h1v1h-1zM72 421h1v1h-1zM70 421h1v1h-1zM72 419h1v1h-1zM69 418h1v1h-1zM73 422h1v1h-1zM69 422h1v1h-1zM73 418h1v1h-1zM68 417h1v1h-1zM74 423h1v1h-1zM68 423h1v1h-1zM74 417h1v1h-1zM70 421h9v1h-9zM74 417h1v9h-1zM73 420h1v1h-1zM75 422h1v1h-1zM73 422h1v1h-1zM75 420h1v1h-1zM72 419h1v1h-1zM76 423h1v1h-1zM72 423h1v1h-1zM76 419h1v1h-1zM71 418h1v1h-1zM77 424h1v1h-1zM71 424h1v1h-1zM77 418h1v1h-1zM67 420h9v1h-9zM71 416h1v9h-1zM70 419h1v1h-1zM72 421h1v1h-1zM70 421h1v1h-1zM72 419h1v1h-1zM69 418h1v1h-1zM73 422h1v1h-1zM69 422h1v1h-1zM73 418h1v1h-1zM68 417h1v1h-1zM74 423h1v1h-1zM68 423h1v1h-1zM74 417h1v1h-1zM71 418h9v1h-9zM75 414h1v9h-1zM74 417h1v1h-1zM76 419h1v1h-1zM74 419h1v1h-1zM76 417h1v1h-1zM73 416h1v1h-1zM77 420h1v1h-1zM73 420h1v1h-1zM77 416h1v1h-1zM72 415h1v1h-1zM78 421h1v1h-1zM72 421h1v1h-1zM78 415h1v1h-1zM66 418h9v1h-9zM70 414h1v9h-1zM69 417h1v1h-1zM71 419h1v1h-1zM69 419h1v1h-1zM71 417h1v1h-1zM68 416h1v1h-1zM72 420h1v1h-1zM68 420h1v1h-1zM72 416h1v1h-1zM67 415h1v1h-1zM73 421h1v1h-1zM67 421h1v1h-1zM73 415h1v1h-1zM72 417h9v1h-9zM76 413h1v9h-1zM75 416h1v1h-1zM77 418h1v1h-1zM75 418h1v1h-1zM77 416h1v1h-1zM74 415h1v1h-1zM78 419h1v1h-1zM74 419h1v1h-1zM78 415h1v1h-1zM73 414h1v1h-1zM79 420h1v1h-1zM73 420h1v1h-1zM79 414h1v1h-1zM70 418h9v1h-9zM74 414h1v9h-1zM73 417h1v1h-1zM75 419h1v1h-1zM73 419h1v1h-1zM75 417h1v1h-1zM72 416h1v1h-1zM76 420h1v1h-1zM72 420h1v1h-1zM76 416h1v1h-1zM71 415h1v1h-1zM77 421h1v1h-1zM71 421h1v1h-1zM77 415h1v1h-1zM68 415h9v1h-9zM72 411h1v9h-1zM71 414h1v1h-1zM73 416h1v1h-1zM71 416h1v1h-1zM73 414h1v1h-1zM70 413h1v1h-1zM74 417h1v1h-1zM70 417h1v1h-1zM74 413h1v1h-1zM69 412h1v1h-1zM75 418h1v1h-1zM69 418h1v1h-1zM75 412h1v1h-1zM72 416h9v1h-9zM76 412h1v9h-1zM75 415h1v1h-1zM77 417h1v1h-1zM75 417h1v1h-1zM77 415h1v1h-1zM74 414h1v1h-1zM78 418h1v1h-1zM74 418h1v1h-1zM78 414h1v1h-1zM73 413h1v1h-1zM79 419h1v1h-1zM73 419h1v1h-1zM79 413h1v1h-1zM69 416h9v1h-9zM73 412h1v9h-1zM72 415h1v1h-1zM74 417h1v1h-1zM72 417h1v1h-1zM74 415h1v1h-1zM71 414h1v1h-1zM75 418h1v1h-1zM71 418h1v1h-1zM75 414h1v1h-1zM70 413h1v1h-1zM76 419h1v1h-1zM70 419h1v1h-1zM76 413h1v1h-1zM73 413h9v1h-9zM77 409h1v9h-1zM76 412h1v1h-1zM78 414h1v1h-1zM76 414h1v1h-1zM78 412h1v1h-1zM75 411h1v1h-1zM79 415h1v1h-1zM75 415h1v1h-1zM79 411h1v1h-1zM74 410h1v1h-1zM80 416h1v1h-1zM74 416h1v1h-1zM80 410h1v1h-1zM68 413h9v1h-9zM72 409h1v9h-1zM71 412h1v1h-1zM73 414h1v1h-1zM71 414h1v1h-1zM73 412h1v1h-1zM70 411h1v1h-1zM74 415h1v1h-1zM70 415h1v1h-1zM74 411h1v1h-1zM69 410h1v1h-1zM75 416h1v1h-1zM69 416h1v1h-1zM75 410h1v1h-1zM74 413h9v1h-9zM78 409h1v9h-1zM77 412h1v1h-1zM79 414h1v1h-1zM77 414h1v1h-1zM79 412h1v1h-1zM76 411h1v1h-1zM80 415h1v1h-1zM76 415h1v1h-1zM80 411h1v1h-1zM75 410h1v1h-1zM81 416h1v1h-1zM75 416h1v1h-1zM81 410h1v1h-1zM72 413h9v1h-9zM76 409h1v9h-1zM75 412h1v1h-1zM77 414h1v1h-1zM75 414h1v1h-1zM77 412h1v1h-1zM74 411h1v1h-1zM78 415h1v1h-1zM74 415h1v1h-1zM78 411h1v1h-1zM73 410h1v1h-1zM79 416h1v1h-1zM73 416h1v1h-1zM79 410h1v1h-1zM70 410h9v1h-9zM74 406h1v9h-1zM73 409h1v1h-1zM75 411h1v1h-1zM73 411h1v1h-1zM75 409h1v1h-1zM72 408h1v1h-1zM76 412h1v1h-1zM72 412h1v1h-1zM76 408h1v1h-1zM71 407h1v1h-1zM77 413h1v1h-1zM71 413h1v1h-1zM77 407h1v1h-1zM74 412h9v1h-9zM78 408h1v9h-1zM77 411h1v1h-1zM79 413h1v1h-1zM77 413h1v1h-1zM79 411h1v1h-1zM76 410h1v1h-1zM80 414h1v1h-1zM76 414h1v1h-1zM80 410h1v1h-1zM75 409h1v1h-1zM81 415h1v1h-1zM75 415h1v1h-1zM81 409h1v1h-1zM71 411h9v1h-9zM75 407h1v9h-1zM74 410h1v1h-1zM76 412h1v1h-1zM74 412h1v1h-1zM76 410h1v1h-1zM73 409h1v1h-1zM77 413h1v1h-1zM73 413h1v1h-1zM77 409h1v1h-1zM72 408h1v1h-1zM78 414h1v1h-1zM72 414h1v1h-1zM78 408h1v1h-1zM75 409h9v1h-9zM79 405h1v9h-1zM78 408h1v1h-1zM80 410h1v1h-1zM78 410h1v1h-1zM80 408h1v1h-1zM77 407h1v1h-1zM81 411h1v1h-1zM77 411h1v1h-1zM81 407h1v1h-1zM76 406h1v1h-1zM82 412h1v1h-1zM76 412h1v1h-1zM82 406h1v1h-1zM70 409h9v1h-9zM74 405h1v9h-1zM73 408h1v1h-1zM75 410h1v1h-1zM73 410h1v1h-1zM75 408h1v1h-1zM72 407h1v1h-1zM76 411h1v1h-1zM72 411h1v1h-1zM76 407h1v1h-1zM71 406h1v1h-1zM77 412h1v1h-1zM71 412h1v1h-1zM77 406h1v1h-1zM76 408h9v1h-9zM80 404h1v9h-1zM79 407h1v1h-1zM81 409h1v1h-1zM79 409h1v1h-1zM81 407h1v1h-1zM78 406h1v1h-1zM82 410h1v1h-1zM78 410h1v1h-1zM82 406h1v1h-1zM77 405h1v1h-1zM83 411h1v1h-1zM77 411h1v1h-1zM83 405h1v1h-1zM74 409h9v1h-9zM78 405h1v9h-1zM77 408h1v1h-1zM79 410h1v1h-1zM77 410h1v1h-1zM79 408h1v1h-1zM76 407h1v1h-1zM80 411h1v1h-1zM76 411h1v1h-1zM80 407h1v1h-1zM75 406h1v1h-1zM81 412h1v1h-1zM75 412h1v1h-1zM81 406h1v1h-1zM72 406h9v1h-9zM76 402h1v9h-1zM75 405h1v1h-1zM77 407h1v1h-1zM75 407h1v1h-1zM77 405h1v1h-1zM74 404h1v1h-1zM78 408h1v1h-1zM74 408h1v1h-1zM78 404h1v1h-1zM73 403h1v1h-1zM79 409h1v1h-1zM73 409h1v1h-1zM79 403h1v1h-1zM76 407h9v1h-9zM80 403h1v9h-1zM79 406h1v1h-1zM81 408h1v1h-1zM79 408h1v1h-1zM81 406h1v1h-1zM78 405h1v1h-1zM82 409h1v1h-1zM78 409h1v1h-1zM82 405h1v1h-1zM77 404h1v1h-1zM83 410h1v1h-1zM77 410h1v1h-1zM83 404h1v1h-1zM73 407h9v1h-9zM77 403h1v9h-1zM76 406h1v1h-1zM78 408h1v1h-1zM76 408h1v1h-1zM78 406h1v1h-1zM75 405h1v1h-1zM79 409h1v1h-1zM75 409h1v1h-1zM79 405h1v1h-1zM74 404h1v1h-1zM80 410h1v1h-1zM74 410h1v1h-1zM80 404h1v1h-1zM77 404h9v1h-9zM81 400h1v9h-1zM80 403h1v1h-1zM82 405h1v1h-1zM80 405h1v1h-1zM82 403h1v1h-1zM79 402h1v1h-1zM83 406h1v1h-1zM79 406h1v1h-1zM83 402h1v1h-1zM78 401h1v1h-1zM84 407h1v1h-1zM78 407h1v1h-1zM84 401h1v1h-1zM72 404h9v1h-9zM76 400h1v9h-1zM75 403h1v1h-1zM77 405h1v1h-1zM75 405h1v1h-1zM77 403h1v1h-1zM74 402h1v1h-1zM78 406h1v1h-1zM74 406h1v1h-1zM78 402h1v1h-1zM73 401h1v1h-1zM79 407h1v1h-1zM73 407h1v1h-1zM79 401h1v1h-1zM79 404h9v1h-9zM83 400h1v9h-1zM82 403h1v1h-1zM84 405h1v1h-1zM82 405h1v1h-1zM84 403h1v1h-1zM81 402h1v1h-1zM85 406h1v1h-1zM81 406h1v1h-1zM85 402h1v1h-1zM80 401h1v1h-1zM86 407h1v1h-1zM80 407h1v1h-1zM86 401h1v1h-1zM76 404h9v1h-9zM80 400h1v9h-1zM79 403h1v1h-1zM81 405h1v1h-1zM79 405h1v1h-1zM81 403h1v1h-1zM78 402h1v1h-1zM82 406h1v1h-1zM78 406h1v1h-1zM82 402h1v1h-1zM77 401h1v1h-1zM83 407h1v1h-1zM77 407h1v1h-1zM83 401h1v1h-1zM75 402h9v1h-9zM79 398h1v9h-1zM78 401h1v1h-1zM80 403h1v1h-1zM78 403h1v1h-1zM80 401h1v1h-1zM77 400h1v1h-1zM81 404h1v1h-1zM77 404h1v1h-1zM81 400h1v1h-1zM76 399h1v1h-1zM82 405h1v1h-1zM76 405h1v1h-1zM82 399h1v1h-1zM78 403h9v1h-9zM82 399h1v9h-1zM81 402h1v1h-1zM83 404h1v1h-1zM81 404h1v1h-1zM83 402h1v1h-1zM80 401h1v1h-1zM84 405h1v1h-1zM80 405h1v1h-1zM84 401h1v1h-1zM79 400h1v1h-1zM85 406h1v1h-1zM79 406h1v1h-1zM85 400h1v1h-1zM75 402h9v1h-9zM79 398h1v9h-1zM78 401h1v1h-1zM80 403h1v1h-1zM78 403h1v1h-1zM80 401h1v1h-1zM77 400h1v1h-1zM81 404h1v1h-1zM77 404h1v1h-1zM81 400h1v1h-1zM76 399h1v1h-1zM82 405h1v1h-1zM76 405h1v1h-1zM82 399h1v1h-1zM79 400h9v1h-9zM83 396h1v9h-1zM82 399h1v1h-1zM84 401h1v1h-1zM82 401h1v1h-1zM84 399h1v1h-1zM81 398h1v1h-1zM85 402h1v1h-1zM81 402h1v1h-1zM85 398h1v1h-1zM80 397h1v1h-1zM86 403h1v1h-1zM80 403h1v1h-1zM86 397h1v1h-1zM75 400h9v1h-9zM79 396h1v9h-1zM78 399h1v1h-1zM80 401h1v1h-1zM78 401h1v1h-1zM80 399h1v1h-1zM77 398h1v1h-1zM81 402h1v1h-1zM77 402h1v1h-1zM81 398h1v1h-1zM76 397h1v1h-1zM82 403h1v1h-1zM76 403h1v1h-1zM82 397h1v1h-1zM81 400h9v1h-9zM85 396h1v9h-1zM84 399h1v1h-1zM86 401h1v1h-1zM84 401h1v1h-1zM86 399h1v1h-1zM83 398h1v1h-1zM87 402h1v1h-1zM83 402h1v1h-1zM87 398h1v1h-1zM82 397h1v1h-1zM88 403h1v1h-1zM82 403h1v1h-1zM88 397h1v1h-1zM78 400h9v1h-9zM82 396h1v9h-1zM81 399h1v1h-1zM83 401h1v1h-1zM81 401h1v1h-1zM83 399h1v1h-1zM80 398h1v1h-1zM84 402h1v1h-1zM80 402h1v1h-1zM84 398h1v1h-1zM79 397h1v1h-1zM85 403h1v1h-1zM79 403h1v1h-1zM85 397h1v1h-1zM77 397h9v1h-9zM81 393h1v9h-1zM80 396h1v1h-1zM82 398h1v1h-1zM80 398h1v1h-1zM82 396h1v1h-1zM79 395h1v1h-1zM83 399h1v1h-1zM79 399h1v1h-1zM83 395h1v1h-1zM78 394h1v1h-1zM84 400h1v1h-1zM78 400h1v1h-1zM84 394h1v1h-1zM81 399h9v1h-9zM85 395h1v9h-1zM84 398h1v1h-1zM86 400h1v1h-1zM84 400h1v1h-1zM86 398h1v1h-1zM83 397h1v1h-1zM87 401h1v1h-1zM83 401h1v1h-1zM87 397h1v1h-1zM82 396h1v1h-1zM88 402h1v1h-1zM82 402h1v1h-1zM88 396h1v1h-1zM80 397h9v1h-9zM84 393h1v9h-1zM83 396h1v1h-1zM85 398h1v1h-1zM83 398h1v1h-1zM85 396h1v1h-1zM82 395h1v1h-1zM86 399h1v1h-1zM82 399h1v1h-1zM86 395h1v1h-1zM81 394h1v1h-1zM87 400h1v1h-1zM81 400h1v1h-1zM87 394h1v1h-1zM77 397h9v1h-9zM81 393h1v9h-1zM80 396h1v1h-1zM82 398h1v1h-1zM80 398h1v1h-1zM82 396h1v1h-1zM79 395h1v1h-1zM83 399h1v1h-1zM79 399h1v1h-1zM83 395h1v1h-1zM78 394h1v1h-1zM84 400h1v1h-1zM78 400h1v1h-1zM84 394h1v1h-1zM82 396h9v1h-9zM86 392h1v9h-1zM85 395h1v1h-1zM87 397h1v1h-1zM85 397h1v1h-1zM87 395h1v1h-1zM84 394h1v1h-1zM88 398h1v1h-1zM84 398h1v1h-1zM88 394h1v1h-1zM83 393h1v1h-1zM89 399h1v1h-1zM83 399h1v1h-1zM89 393h1v1h-1zM80 396h9v1h-9zM84 392h1v9h-1zM83 395h1v1h-1zM85 397h1v1h-1zM83 397h1v1h-1zM85 395h1v1h-1zM82 394h1v1h-1zM86 398h1v1h-1zM82 398h1v1h-1zM86 394h1v1h-1zM81 393h1v1h-1zM87 399h1v1h-1zM81 399h1v1h-1zM87 393h1v1h-1zM79 394h9v1h-9zM83 390h1v9h-1zM82 393h1v1h-1zM84 395h1v1h-1zM82 395h1v1h-1zM84 393h1v1h-1zM81 392h1v1h-1zM85 396h1v1h-1zM81 396h1v1h-1zM85 392h1v1h-1zM80 391h1v1h-1zM86 397h1v1h-1zM80 397h1v1h-1zM86 391h1v1h-1zM82 395h9v1h-9zM86 391h1v9h-1zM85 394h1v1h-1zM87 396h1v1h-1zM85 396h1v1h-1zM87 394h1v1h-1zM84 393h1v1h-1zM88 397h1v1h-1zM84 397h1v1h-1zM88 393h1v1h-1zM83 392h1v1h-1zM89 398h1v1h-1zM83 398h1v1h-1zM89 392h1v1h-1zM79 394h9v1h-9zM83 390h1v9h-1zM82 393h1v1h-1zM84 395h1v1h-1zM82 395h1v1h-1zM84 393h1v1h-1zM81 392h1v1h-1zM85 396h1v1h-1zM81 396h1v1h-1zM85 392h1v1h-1zM80 391h1v1h-1zM86 397h1v1h-1zM80 397h1v1h-1zM86 391h1v1h-1zM83 392h9v1h-9zM87 388h1v9h-1zM86 391h1v1h-1zM88 393h1v1h-1zM86 393h1v1h-1zM88 391h1v1h-1zM85 390h1v1h-1zM89 394h1v1h-1zM85 394h1v1h-1zM89 390h1v1h-1zM84 389h1v1h-1zM90 395h1v1h-1zM84 395h1v1h-1zM90 389h1v1h-1zM79 392h9v1h-9zM83 388h1v9h-1zM82 391h1v1h-1zM84 393h1v1h-1zM82 393h1v1h-1zM84 391h1v1h-1zM81 390h1v1h-1zM85 394h1v1h-1zM81 394h1v1h-1zM85 390h1v1h-1zM80 389h1v1h-1zM86 395h1v1h-1zM80 395h1v1h-1zM86 389h1v1h-1zM85 391h9v1h-9zM89 387h1v9h-1zM88 390h1v1h-1zM90 392h1v1h-1zM88 392h1v1h-1zM90 390h1v1h-1zM87 389h1v1h-1zM91 393h1v1h-1zM87 393h1v1h-1zM91 389h1v1h-1zM86 388h1v1h-1zM92 394h1v1h-1zM86 394h1v1h-1zM92 388h1v1h-1zM82 391h9v1h-9zM86 387h1v9h-1zM85 390h1v1h-1zM87 392h1v1h-1zM85 392h1v1h-1zM87 390h1v1h-1zM84 389h1v1h-1zM88 393h1v1h-1zM84 393h1v1h-1zM88 389h1v1h-1zM83 388h1v1h-1zM89 394h1v1h-1zM83 394h1v1h-1zM89 388h1v1h-1zM82 388h9v1h-9zM86 384h1v9h-1zM85 387h1v1h-1zM87 389h1v1h-1zM85 389h1v1h-1zM87 387h1v1h-1zM84 386h1v1h-1zM88 390h1v1h-1zM84 390h1v1h-1zM88 386h1v1h-1zM83 385h1v1h-1zM89 391h1v1h-1zM83 391h1v1h-1zM89 385h1v1h-1zM84 390h9v1h-9zM88 386h1v9h-1zM87 389h1v1h-1zM89 391h1v1h-1zM87 391h1v1h-1zM89 389h1v1h-1zM86 388h1v1h-1zM90 392h1v1h-1zM86 392h1v1h-1zM90 388h1v1h-1zM85 387h1v1h-1zM91 393h1v1h-1zM85 393h1v1h-1zM91 387h1v1h-1zM81 389h9v1h-9zM85 385h1v9h-1zM84 388h1v1h-1zM86 390h1v1h-1zM84 390h1v1h-1zM86 388h1v1h-1zM83 387h1v1h-1zM87 391h1v1h-1zM83 391h1v1h-1zM87 387h1v1h-1zM82 386h1v1h-1zM88 392h1v1h-1zM82 392h1v1h-1zM88 386h1v1h-1zM86 386h9v1h-9zM90 382h1v9h-1zM89 385h1v1h-1zM91 387h1v1h-1zM89 387h1v1h-1zM91 385h1v1h-1zM88 384h1v1h-1zM92 388h1v1h-1zM88 388h1v1h-1zM92 384h1v1h-1zM87 383h1v1h-1zM93 389h1v1h-1zM87 389h1v1h-1zM93 383h1v1h-1zM82 386h9v1h-9zM86 382h1v9h-1zM85 385h1v1h-1zM87 387h1v1h-1zM85 387h1v1h-1zM87 385h1v1h-1zM84 384h1v1h-1zM88 388h1v1h-1zM84 388h1v1h-1zM88 384h1v1h-1zM83 383h1v1h-1zM89 389h1v1h-1zM83 389h1v1h-1zM89 383h1v1h-1zM87 386h9v1h-9zM91 382h1v9h-1zM90 385h1v1h-1zM92 387h1v1h-1zM90 387h1v1h-1zM92 385h1v1h-1zM89 384h1v1h-1zM93 388h1v1h-1zM89 388h1v1h-1zM93 384h1v1h-1zM88 383h1v1h-1zM94 389h1v1h-1zM88 389h1v1h-1zM94 383h1v1h-1zM85 386h9v1h-9zM89 382h1v9h-1zM88 385h1v1h-1zM90 387h1v1h-1zM88 387h1v1h-1zM90 385h1v1h-1zM87 384h1v1h-1zM91 388h1v1h-1zM87 388h1v1h-1zM91 384h1v1h-1zM86 383h1v1h-1zM92 389h1v1h-1zM86 389h1v1h-1zM92 383h1v1h-1zM84 383h9v1h-9zM88 379h1v9h-1zM87 382h1v1h-1zM89 384h1v1h-1zM87 384h1v1h-1zM89 382h1v1h-1zM86 381h1v1h-1zM90 385h1v1h-1zM86 385h1v1h-1zM90 381h1v1h-1zM85 380h1v1h-1zM91 386h1v1h-1zM85 386h1v1h-1zM91 380h1v1h-1zM86 384h9v1h-9zM90 380h1v9h-1zM89 383h1v1h-1zM91 385h1v1h-1zM89 385h1v1h-1zM91 383h1v1h-1zM88 382h1v1h-1zM92 386h1v1h-1zM88 386h1v1h-1zM92 382h1v1h-1zM87 381h1v1h-1zM93 387h1v1h-1zM87 387h1v1h-1zM93 381h1v1h-1zM84 384h9v1h-9zM88 380h1v9h-1zM87 383h1v1h-1zM89 385h1v1h-1zM87 385h1v1h-1zM89 383h1v1h-1zM86 382h1v1h-1zM90 386h1v1h-1zM86 386h1v1h-1zM90 382h1v1h-1zM85 381h1v1h-1zM91 387h1v1h-1zM85 387h1v1h-1zM91 381h1v1h-1zM88 381h9v1h-9zM92 377h1v9h-1zM91 380h1v1h-1zM93 382h1v1h-1zM91 382h1v1h-1zM93 380h1v1h-1zM90 379h1v1h-1zM94 383h1v1h-1zM90 383h1v1h-1zM94 379h1v1h-1zM89 378h1v1h-1zM95 384h1v1h-1zM89 384h1v1h-1zM95 378h1v1h-1zM84 381h9v1h-9zM88 377h1v9h-1zM87 380h1v1h-1zM89 382h1v1h-1zM87 382h1v1h-1zM89 380h1v1h-1zM86 379h1v1h-1zM90 383h1v1h-1zM86 383h1v1h-1zM90 379h1v1h-1zM85 378h1v1h-1zM91 384h1v1h-1zM85 384h1v1h-1zM91 378h1v1h-1zM89 380h9v1h-9zM93 376h1v9h-1zM92 379h1v1h-1zM94 381h1v1h-1zM92 381h1v1h-1zM94 379h1v1h-1zM91 378h1v1h-1zM95 382h1v1h-1zM91 382h1v1h-1zM95 378h1v1h-1zM90 377h1v1h-1zM96 383h1v1h-1zM90 383h1v1h-1zM96 377h1v1h-1zM87 381h9v1h-9zM91 377h1v9h-1zM90 380h1v1h-1zM92 382h1v1h-1zM90 382h1v1h-1zM92 380h1v1h-1zM89 379h1v1h-1zM93 383h1v1h-1zM89 383h1v1h-1zM93 379h1v1h-1zM88 378h1v1h-1zM94 384h1v1h-1zM88 384h1v1h-1zM94 378h1v1h-1zM87 378h9v1h-9zM91 374h1v9h-1zM90 377h1v1h-1zM92 379h1v1h-1zM90 379h1v1h-1zM92 377h1v1h-1zM89 376h1v1h-1zM93 380h1v1h-1zM89 380h1v1h-1zM93 376h1v1h-1zM88 375h1v1h-1zM94 381h1v1h-1zM88 381h1v1h-1zM94 375h1v1h-1zM89 379h9v1h-9zM93 375h1v9h-1zM92 378h1v1h-1zM94 380h1v1h-1zM92 380h1v1h-1zM94 378h1v1h-1zM91 377h1v1h-1zM95 381h1v1h-1zM91 381h1v1h-1zM95 377h1v1h-1zM90 376h1v1h-1zM96 382h1v1h-1zM90 382h1v1h-1zM96 376h1v1h-1zM86 378h9v1h-9zM90 374h1v9h-1zM89 377h1v1h-1zM91 379h1v1h-1zM89 379h1v1h-1zM91 377h1v1h-1zM88 376h1v1h-1zM92 380h1v1h-1zM88 380h1v1h-1zM92 376h1v1h-1zM87 375h1v1h-1zM93 381h1v1h-1zM87 381h1v1h-1zM93 375h1v1h-1zM91 376h9v1h-9zM95 372h1v9h-1zM94 375h1v1h-1zM96 377h1v1h-1zM94 377h1v1h-1zM96 375h1v1h-1zM93 374h1v1h-1zM97 378h1v1h-1zM93 378h1v1h-1zM97 374h1v1h-1zM92 373h1v1h-1zM98 379h1v1h-1zM92 379h1v1h-1zM98 373h1v1h-1zM87 376h9v1h-9zM91 372h1v9h-1zM90 375h1v1h-1zM92 377h1v1h-1zM90 377h1v1h-1zM92 375h1v1h-1zM89 374h1v1h-1zM93 378h1v1h-1zM89 378h1v1h-1zM93 374h1v1h-1zM88 373h1v1h-1zM94 379h1v1h-1zM88 379h1v1h-1zM94 373h1v1h-1zM92 375h9v1h-9zM96 371h1v9h-1zM95 374h1v1h-1zM97 376h1v1h-1zM95 376h1v1h-1zM97 374h1v1h-1zM94 373h1v1h-1zM98 377h1v1h-1zM94 377h1v1h-1zM98 373h1v1h-1zM93 372h1v1h-1zM99 378h1v1h-1zM93 378h1v1h-1zM99 372h1v1h-1zM90 376h9v1h-9zM94 372h1v9h-1zM93 375h1v1h-1zM95 377h1v1h-1zM93 377h1v1h-1zM95 375h1v1h-1zM92 374h1v1h-1zM96 378h1v1h-1zM92 378h1v1h-1zM96 374h1v1h-1zM91 373h1v1h-1zM97 379h1v1h-1zM91 379h1v1h-1zM97 373h1v1h-1zM90 373h9v1h-9zM94 369h1v9h-1zM93 372h1v1h-1zM95 374h1v1h-1zM93 374h1v1h-1zM95 372h1v1h-1zM92 371h1v1h-1zM96 375h1v1h-1zM92 375h1v1h-1zM96 371h1v1h-1zM91 370h1v1h-1zM97 376h1v1h-1zM91 376h1v1h-1zM97 370h1v1h-1zM92 374h9v1h-9zM96 370h1v9h-1zM95 373h1v1h-1zM97 375h1v1h-1zM95 375h1v1h-1zM97 373h1v1h-1zM94 372h1v1h-1zM98 376h1v1h-1zM94 376h1v1h-1zM98 372h1v1h-1zM93 371h1v1h-1zM99 377h1v1h-1zM93 377h1v1h-1zM99 371h1v1h-1zM90 373h9v1h-9zM94 369h1v9h-1zM93 372h1v1h-1zM95 374h1v1h-1zM93 374h1v1h-1zM95 372h1v1h-1zM92 371h1v1h-1zM96 375h1v1h-1zM92 375h1v1h-1zM96 371h1v1h-1zM91 370h1v1h-1zM97 376h1v1h-1zM91 376h1v1h-1zM97 370h1v1h-1zM94 371h9v1h-9zM98 367h1v9h-1zM97 370h1v1h-1zM99 372h1v1h-1zM97 372h1v1h-1zM99 370h1v1h-1zM96 369h1v1h-1zM100 373h1v1h-1zM96 373h1v1h-1zM100 369h1v1h-1zM95 368h1v1h-1zM101 374h1v1h-1zM95 374h1v1h-1zM101 368h1v1h-1zM90 371h9v1h-9zM94 367h1v9h-1zM93 370h1v1h-1zM95 372h1v1h-1zM93 372h1v1h-1zM95 370h1v1h-1zM92 369h1v1h-1zM96 373h1v1h-1zM92 373h1v1h-1zM96 369h1v1h-1zM91 368h1v1h-1zM97 374h1v1h-1zM91 374h1v1h-1zM97 368h1v1h-1zM95 370h9v1h-9zM99 366h1v9h-1zM98 369h1v1h-1zM100 371h1v1h-1zM98 371h1v1h-1zM100 369h1v1h-1zM97 368h1v1h-1zM101 372h1v1h-1zM97 372h1v1h-1zM101 368h1v1h-1zM96 367h1v1h-1zM102 373h1v1h-1zM96 373h1v1h-1zM102 367h1v1h-1zM93 371h9v1h-9zM97 367h1v9h-1zM96 370h1v1h-1zM98 372h1v1h-1zM96 372h1v1h-1zM98 370h1v1h-1zM95 369h1v1h-1zM99 373h1v1h-1zM95 373h1v1h-1zM99 369h1v1h-1zM94 368h1v1h-1zM100 374h1v1h-1zM94 374h1v1h-1zM100 368h1v1h-1zM93 368h9v1h-9zM97 364h1v9h-1zM96 367h1v1h-1zM98 369h1v1h-1zM96 369h1v1h-1zM98 367h1v1h-1zM95 366h1v1h-1zM99 370h1v1h-1zM95 370h1v1h-1zM99 366h1v1h-1zM94 365h1v1h-1zM100 371h1v1h-1zM94 371h1v1h-1zM100 365h1v1h-1zM95 369h9v1h-9zM99 365h1v9h-1zM98 368h1v1h-1zM100 370h1v1h-1zM98 370h1v1h-1zM100 368h1v1h-1zM97 367h1v1h-1zM101 371h1v1h-1zM97 371h1v1h-1zM101 367h1v1h-1zM96 366h1v1h-1zM102 372h1v1h-1zM96 372h1v1h-1zM102 366h1v1h-1zM92 368h9v1h-9zM96 364h1v9h-1zM95 367h1v1h-1zM97 369h1v1h-1zM95 369h1v1h-1zM97 367h1v1h-1zM94 366h1v1h-1zM98 370h1v1h-1zM94 370h1v1h-1zM98 366h1v1h-1zM93 365h1v1h-1zM99 371h1v1h-1zM93 371h1v1h-1zM99 365h1v1h-1zM96 366h9v1h-9zM100 362h1v9h-1zM99 365h1v1h-1zM101 367h1v1h-1zM99 367h1v1h-1zM101 365h1v1h-1zM98 364h1v1h-1zM102 368h1v1h-1zM98 368h1v1h-1zM102 364h1v1h-1zM97 363h1v1h-1zM103 369h1v1h-1zM97 369h1v1h-1zM103 363h1v1h-1zM92 366h9v1h-9zM96 362h1v9h-1zM95 365h1v1h-1zM97 367h1v1h-1zM95 367h1v1h-1zM97 365h1v1h-1zM94 364h1v1h-1zM98 368h1v1h-1zM94 368h1v1h-1zM98 364h1v1h-1zM93 363h1v1h-1zM99 369h1v1h-1zM93 369h1v1h-1zM99 363h1v1h-1zM97 365h9v1h-9zM101 361h1v9h-1zM100 364h1v1h-1zM102 366h1v1h-1zM100 366h1v1h-1zM102 364h1v1h-1zM99 363h1v1h-1zM103 367h1v1h-1zM99 367h1v1h-1zM103 363h1v1h-1zM98 362h1v1h-1zM104 368h1v1h-1zM98 368h1v1h-1zM104 362h1v1h-1zM95 365h9v1h-9zM99 361h1v9h-1zM98 364h1v1h-1zM100 366h1v1h-1zM98 366h1v1h-1zM100 364h1v1h-1zM97 363h1v1h-1zM101 367h1v1h-1zM97 367h1v1h-1zM101 363h1v1h-1zM96 362h1v1h-1zM102 368h1v1h-1zM96 368h1v1h-1zM102 362h1v1h-1zM94 363h9v1h-9zM98 359h1v9h-1zM97 362h1v1h-1zM99 364h1v1h-1zM97 364h1v1h-1zM99 362h1v1h-1zM96 361h1v1h-1zM100 365h1v1h-1zM96 365h1v1h-1zM100 361h1v1h-1zM95 360h1v1h-1zM101 366h1v1h-1zM95 366h1v1h-1zM101 360h1v1h-1zM97 364h9v1h-9zM101 360h1v9h-1zM100 363h1v1h-1zM102 365h1v1h-1zM100 365h1v1h-1zM102 363h1v1h-1zM99 362h1v1h-1zM103 366h1v1h-1zM99 366h1v1h-1zM103 362h1v1h-1zM98 361h1v1h-1zM104 367h1v1h-1zM98 367h1v1h-1zM104 361h1v1h-1zM94 363h9v1h-9zM98 359h1v9h-1zM97 362h1v1h-1zM99 364h1v1h-1zM97 364h1v1h-1zM99 362h1v1h-1zM96 361h1v1h-1zM100 365h1v1h-1zM96 365h1v1h-1zM100 361h1v1h-1zM95 360h1v1h-1zM101 366h1v1h-1zM95 366h1v1h-1zM101 360h1v1h-1zM98 360h9v1h-9zM102 356h1v9h-1zM101 359h1v1h-1zM103 361h1v1h-1zM101 361h1v1h-1zM103 359h1v1h-1zM100 358h1v1h-1zM104 362h1v1h-1zM100 362h1v1h-1zM104 358h1v1h-1zM99 357h1v1h-1zM105 363h1v1h-1zM99 363h1v1h-1zM105 357h1v1h-1zM94 361h9v1h-9zM98 357h1v9h-1zM97 360h1v1h-1zM99 362h1v1h-1zM97 362h1v1h-1zM99 360h1v1h-1zM96 359h1v1h-1zM100 363h1v1h-1zM96 363h1v1h-1zM100 359h1v1h-1zM95 358h1v1h-1zM101 364h1v1h-1zM95 364h1v1h-1zM101 358h1v1h-1zM99 360h9v1h-9zM103 356h1v9h-1zM102 359h1v1h-1zM104 361h1v1h-1zM102 361h1v1h-1zM104 359h1v1h-1zM101 358h1v1h-1zM105 362h1v1h-1zM101 362h1v1h-1zM105 358h1v1h-1zM100 357h1v1h-1zM106 363h1v1h-1zM100 363h1v1h-1zM106 357h1v1h-1zM97 360h9v1h-9zM101 356h1v9h-1zM100 359h1v1h-1zM102 361h1v1h-1zM100 361h1v1h-1zM102 359h1v1h-1zM99 358h1v1h-1zM103 362h1v1h-1zM99 362h1v1h-1zM103 358h1v1h-1zM98 357h1v1h-1zM104 363h1v1h-1zM98 363h1v1h-1zM104 357h1v1h-1zM96 357h9v1h-9zM100 353h1v9h-1zM99 356h1v1h-1zM101 358h1v1h-1zM99 358h1v1h-1zM101 356h1v1h-1zM98 355h1v1h-1zM102 359h1v1h-1zM98 359h1v1h-1zM102 355h1v1h-1zM97 354h1v1h-1zM103 360h1v1h-1zM97 360h1v1h-1zM103 354h1v1h-1zM98 358h9v1h-9zM102 354h1v9h-1zM101 357h1v1h-1zM103 359h1v1h-1zM101 359h1v1h-1zM103 357h1v1h-1zM100 356h1v1h-1zM104 360h1v1h-1zM100 360h1v1h-1zM104 356h1v1h-1zM99 355h1v1h-1zM105 361h1v1h-1zM99 361h1v1h-1zM105 355h1v1h-1zM96 358h9v1h-9zM100 354h1v9h-1zM99 357h1v1h-1zM101 359h1v1h-1zM99 359h1v1h-1zM101 357h1v1h-1zM98 356h1v1h-1zM102 360h1v1h-1zM98 360h1v1h-1zM102 356h1v1h-1zM97 355h1v1h-1zM103 361h1v1h-1zM97 361h1v1h-1zM103 355h1v1h-1zM100 355h9v1h-9zM104 351h1v9h-1zM103 354h1v1h-1zM105 356h1v1h-1zM103 356h1v1h-1zM105 354h1v1h-1zM102 353h1v1h-1zM106 357h1v1h-1zM102 357h1v1h-1zM106 353h1v1h-1zM101 352h1v1h-1zM107 358h1v1h-1zM101 358h1v1h-1zM107 352h1v1h-1zM96 355h9v1h-9zM100 351h1v9h-1zM99 354h1v1h-1zM101 356h1v1h-1zM99 356h1v1h-1zM101 354h1v1h-1zM98 353h1v1h-1zM102 357h1v1h-1zM98 357h1v1h-1zM102 353h1v1h-1zM97 352h1v1h-1zM103 358h1v1h-1zM97 358h1v1h-1zM103 352h1v1h-1zM101 354h9v1h-9zM105 350h1v9h-1zM104 353h1v1h-1zM106 355h1v1h-1zM104 355h1v1h-1zM106 353h1v1h-1zM103 352h1v1h-1zM107 356h1v1h-1zM103 356h1v1h-1zM107 352h1v1h-1zM102 351h1v1h-1zM108 357h1v1h-1zM102 357h1v1h-1zM108 351h1v1h-1zM99 355h9v1h-9zM103 351h1v9h-1zM102 354h1v1h-1zM104 356h1v1h-1zM102 356h1v1h-1zM104 354h1v1h-1zM101 353h1v1h-1zM105 357h1v1h-1zM101 357h1v1h-1zM105 353h1v1h-1zM100 352h1v1h-1zM106 358h1v1h-1zM100 358h1v1h-1zM106 352h1v1h-1zM98 352h9v1h-9zM102 348h1v9h-1zM101 351h1v1h-1zM103 353h1v1h-1zM101 353h1v1h-1zM103 351h1v1h-1zM100 350h1v1h-1zM104 354h1v1h-1zM100 354h1v1h-1zM104 350h1v1h-1zM99 349h1v1h-1zM105 355h1v1h-1zM99 355h1v1h-1zM105 349h1v1h-1zM100 352h9v1h-9zM104 348h1v9h-1zM103 351h1v1h-1zM105 353h1v1h-1zM103 353h1v1h-1zM105 351h1v1h-1zM102 350h1v1h-1zM106 354h1v1h-1zM102 354h1v1h-1zM106 350h1v1h-1zM101 349h1v1h-1zM107 355h1v1h-1zM101 355h1v1h-1zM107 349h1v1h-1zM101 345h9v1h-9zM105 341h1v9h-1zM104 344h1v1h-1zM106 346h1v1h-1zM104 346h1v1h-1zM106 344h1v1h-1zM103 343h1v1h-1zM107 347h1v1h-1zM103 347h1v1h-1zM107 343h1v1h-1zM102 342h1v1h-1zM108 348h1v1h-1zM102 348h1v1h-1zM108 342h1v1h-1zM104 347h9v1h-9zM108 343h1v9h-1zM107 346h1v1h-1zM109 348h1v1h-1zM107 348h1v1h-1zM109 346h1v1h-1zM106 345h1v1h-1zM110 349h1v1h-1zM106 349h1v1h-1zM110 345h1v1h-1zM105 344h1v1h-1zM111 350h1v1h-1zM105 350h1v1h-1zM111 344h1v1h-1zM102 337h9v1h-9zM106 333h1v9h-1zM105 336h1v1h-1zM107 338h1v1h-1zM105 338h1v1h-1zM107 336h1v1h-1zM104 335h1v1h-1zM108 339h1v1h-1zM104 339h1v1h-1zM108 335h1v1h-1zM103 334h1v1h-1zM109 340h1v1h-1zM103 340h1v1h-1zM109 334h1v1h-1zM106 329h9v1h-9zM110 325h1v9h-1zM109 328h1v1h-1zM111 330h1v1h-1zM109 330h1v1h-1zM111 328h1v1h-1zM108 327h1v1h-1zM112 331h1v1h-1zM108 331h1v1h-1zM112 327h1v1h-1zM107 326h1v1h-1zM113 332h1v1h-1zM107 332h1v1h-1zM113 326h1v1h-1zM109 320h9v1h-9zM113 316h1v9h-1zM112 319h1v1h-1zM114 321h1v1h-1zM112 321h1v1h-1zM114 319h1v1h-1zM111 318h1v1h-1zM115 322h1v1h-1zM111 322h1v1h-1zM115 318h1v1h-1zM110 317h1v1h-1zM116 323h1v1h-1zM110 323h1v1h-1zM116 317h1v1h-1zM113 312h9v1h-9zM117 308h1v9h-1zM116 311h1v1h-1zM118 313h1v1h-1zM116 313h1v1h-1zM118 311h1v1h-1zM115 310h1v1h-1zM119 314h1v1h-1zM115 314h1v1h-1zM119 310h1v1h-1zM114 309h1v1h-1zM120 315h1v1h-1zM114 315h1v1h-1zM120 309h1v1h-1zM117 303h9v1h-9zM121 299h1v9h-1zM120 302h1v1h-1zM122 304h1v1h-1zM120 304h1v1h-1zM122 302h1v1h-1zM119 301h1v1h-1zM123 305h1v1h-1zM119 305h1v1h-1zM123 301h1v1h-1zM118 300h1v1h-1zM124 306h1v1h-1zM118 306h1v1h-1zM124 300h1v1h-1zM122 294h9v1h-9zM126 290h1v9h-1zM125 293h1v1h-1zM127 295h1v1h-1zM125 295h1v1h-1zM127 293h1v1h-1zM124 292h1v1h-1zM128 296h1v1h-1zM124 296h1v1h-1zM128 292h1v1h-1zM123 291h1v1h-1zM129 297h1v1h-1zM123 297h1v1h-1zM129 291h1v1h-1zM127 288h9v1h-9zM131 284h1v9h-1zM130 287h1v1h-1zM132 289h1v1h-1zM130 289h1v1h-1zM132 287h1v1h-1zM129 286h1v1h-1zM133 290h1v1h-1zM129 290h1v1h-1zM133 286h1v1h-1zM128 285h1v1h-1zM134 291h1v1h-1zM128 291h1v1h-1zM134 285h1v1h-1zM132 281h9v1h-9zM136 277h1v9h-1zM135 280h1v1h-1zM137 282h1v1h-1zM135 282h1v1h-1zM137 280h1v1h-1zM134 279h1v1h-1zM138 283h1v1h-1zM134 283h1v1h-1zM138 279h1v1h-1zM133 278h1v1h-1zM139 284h1v1h-1zM133 284h1v1h-1zM139 278h1v1h-1zM137 275h9v1h-9zM141 271h1v9h-1zM140 274h1v1h-1zM142 276h1v1h-1zM140 276h1v1h-1zM142 274h1v1h-1zM139 273h1v1h-1zM143 277h1v1h-1zM139 277h1v1h-1zM143 273h1v1h-1zM138 272h1v1h-1zM144 278h1v1h-1zM138 278h1v1h-1zM144 272h1v1h-1zM108 338h9v1h-9zM112 334h1v9h-1zM111 337h1v1h-1zM113 339h1v1h-1zM111 339h1v1h-1zM113 337h1v1h-1zM110 336h1v1h-1zM114 340h1v1h-1zM110 340h1v1h-1zM114 336h1v1h-1zM109 335h1v1h-1zM115 341h1v1h-1zM109 341h1v1h-1zM115 335h1v1h-1zM114 329h9v1h-9zM118 325h1v9h-1zM117 328h1v1h-1zM119 330h1v1h-1zM117 330h1v1h-1zM119 328h1v1h-1zM116 327h1v1h-1zM120 331h1v1h-1zM116 331h1v1h-1zM120 327h1v1h-1zM115 326h1v1h-1zM121 332h1v1h-1zM115 332h1v1h-1zM121 326h1v1h-1zM116 318h9v1h-9zM120 314h1v9h-1zM119 317h1v1h-1zM121 319h1v1h-1zM119 319h1v1h-1zM121 317h1v1h-1zM118 316h1v1h-1zM122 320h1v1h-1zM118 320h1v1h-1zM122 316h1v1h-1zM117 315h1v1h-1zM123 321h1v1h-1zM117 321h1v1h-1zM123 315h1v1h-1zM119 317h9v1h-9zM123 313h1v9h-1zM122 316h1v1h-1zM124 318h1v1h-1zM122 318h1v1h-1zM124 316h1v1h-1zM121 315h1v1h-1zM125 319h1v1h-1zM121 319h1v1h-1zM125 315h1v1h-1zM120 314h1v1h-1zM126 320h1v1h-1zM120 320h1v1h-1zM126 314h1v1h-1zM119 311h9v1h-9zM123 307h1v9h-1zM122 310h1v1h-1zM124 312h1v1h-1zM122 312h1v1h-1zM124 310h1v1h-1zM121 309h1v1h-1zM125 313h1v1h-1zM121 313h1v1h-1zM125 309h1v1h-1zM120 308h1v1h-1zM126 314h1v1h-1zM120 314h1v1h-1zM126 308h1v1h-1zM123 307h9v1h-9zM127 303h1v9h-1zM126 306h1v1h-1zM128 308h1v1h-1zM126 308h1v1h-1zM128 306h1v1h-1zM125 305h1v1h-1zM129 309h1v1h-1zM125 309h1v1h-1zM129 305h1v1h-1zM124 304h1v1h-1zM130 310h1v1h-1zM124 310h1v1h-1zM130 304h1v1h-1zM126 302h9v1h-9zM130 298h1v9h-1zM129 301h1v1h-1zM131 303h1v1h-1zM129 303h1v1h-1zM131 301h1v1h-1zM128 300h1v1h-1zM132 304h1v1h-1zM128 304h1v1h-1zM132 300h1v1h-1zM127 299h1v1h-1zM133 305h1v1h-1zM127 305h1v1h-1zM133 299h1v1h-1zM128 298h9v1h-9zM132 294h1v9h-1zM131 297h1v1h-1zM133 299h1v1h-1zM131 299h1v1h-1zM133 297h1v1h-1zM130 296h1v1h-1zM134 300h1v1h-1zM130 300h1v1h-1zM134 296h1v1h-1zM129 295h1v1h-1zM135 301h1v1h-1zM129 301h1v1h-1zM135 295h1v1h-1zM130 295h9v1h-9zM134 291h1v9h-1zM133 294h1v1h-1zM135 296h1v1h-1zM133 296h1v1h-1zM135 294h1v1h-1zM132 293h1v1h-1zM136 297h1v1h-1zM132 297h1v1h-1zM136 293h1v1h-1zM131 292h1v1h-1zM137 298h1v1h-1zM131 298h1v1h-1zM137 292h1v1h-1zM132 292h9v1h-9zM136 288h1v9h-1zM135 291h1v1h-1zM137 293h1v1h-1zM135 293h1v1h-1zM137 291h1v1h-1zM134 290h1v1h-1zM138 294h1v1h-1zM134 294h1v1h-1zM138 290h1v1h-1zM133 289h1v1h-1zM139 295h1v1h-1zM133 295h1v1h-1zM139 289h1v1h-1zM134 289h9v1h-9zM138 285h1v9h-1zM137 288h1v1h-1zM139 290h1v1h-1zM137 290h1v1h-1zM139 288h1v1h-1zM136 287h1v1h-1zM140 291h1v1h-1zM136 291h1v1h-1zM140 287h1v1h-1zM135 286h1v1h-1zM141 292h1v1h-1zM135 292h1v1h-1zM141 286h1v1h-1zM138 284h9v1h-9zM142 280h1v9h-1zM141 283h1v1h-1zM143 285h1v1h-1zM141 285h1v1h-1zM143 283h1v1h-1zM140 282h1v1h-1zM144 286h1v1h-1zM140 286h1v1h-1zM144 282h1v1h-1zM139 281h1v1h-1zM145 287h1v1h-1zM139 287h1v1h-1zM145 281h1v1h-1zM139 280h9v1h-9zM143 276h1v9h-1zM142 279h1v1h-1zM144 281h1v1h-1zM142 281h1v1h-1zM144 279h1v1h-1zM141 278h1v1h-1zM145 282h1v1h-1zM141 282h1v1h-1zM145 278h1v1h-1zM140 277h1v1h-1zM146 283h1v1h-1zM140 283h1v1h-1zM146 277h1v1h-1zM143 273h9v1h-9zM147 269h1v9h-1zM146 272h1v1h-1zM148 274h1v1h-1zM146 274h1v1h-1zM148 272h1v1h-1zM145 271h1v1h-1zM149 275h1v1h-1zM145 275h1v1h-1zM149 271h1v1h-1zM144 270h1v1h-1zM150 276h1v1h-1zM144 276h1v1h-1zM150 270h1v1h-1zM136 279h9v1h-9zM140 275h1v9h-1zM139 278h1v1h-1zM141 280h1v1h-1zM139 280h1v1h-1zM141 278h1v1h-1zM138 277h1v1h-1zM142 281h1v1h-1zM138 281h1v1h-1zM142 277h1v1h-1zM137 276h1v1h-1zM143 282h1v1h-1zM137 282h1v1h-1zM143 276h1v1h-1zM140 278h9v1h-9zM144 274h1v9h-1zM143 277h1v1h-1zM145 279h1v1h-1zM143 279h1v1h-1zM145 277h1v1h-1zM142 276h1v1h-1zM146 280h1v1h-1zM142 280h1v1h-1zM146 276h1v1h-1zM141 275h1v1h-1zM147 281h1v1h-1zM141 281h1v1h-1zM147 275h1v1h-1zM139 277h9v1h-9zM143 273h1v9h-1zM142 276h1v1h-1zM144 278h1v1h-1zM142 278h1v1h-1zM144 276h1v1h-1zM141 275h1v1h-1zM145 279h1v1h-1zM141 279h1v1h-1zM145 275h1v1h-1zM140 274h1v1h-1zM146 280h1v1h-1zM140 280h1v1h-1zM146 274h1v1h-1zM139 275h9v1h-9zM143 271h1v9h-1zM142 274h1v1h-1zM144 276h1v1h-1zM142 276h1v1h-1zM144 274h1v1h-1zM141 273h1v1h-1zM145 277h1v1h-1zM141 277h1v1h-1zM145 273h1v1h-1zM140 272h1v1h-1zM146 278h1v1h-1zM140 278h1v1h-1zM146 272h1v1h-1zM143 274h9v1h-9zM147 270h1v9h-1zM146 273h1v1h-1zM148 275h1v1h-1zM146 275h1v1h-1zM148 273h1v1h-1zM145 272h1v1h-1zM149 276h1v1h-1zM145 276h1v1h-1zM149 272h1v1h-1zM144 271h1v1h-1zM150 277h1v1h-1zM144 277h1v1h-1zM150 271h1v1h-1zM142 274h9v1h-9zM146 270h1v9h-1zM145 273h1v1h-1zM147 275h1v1h-1zM145 275h1v1h-1zM147 273h1v1h-1zM144 272h1v1h-1zM148 276h1v1h-1zM144 276h1v1h-1zM148 272h1v1h-1zM143 271h1v1h-1zM149 277h1v1h-1zM143 277h1v1h-1zM149 271h1v1h-1zM142 271h9v1h-9zM146 267h1v9h-1zM145 270h1v1h-1zM147 272h1v1h-1zM145 272h1v1h-1zM147 270h1v1h-1zM144 269h1v1h-1zM148 273h1v1h-1zM144 273h1v1h-1zM148 269h1v1h-1zM143 268h1v1h-1zM149 274h1v1h-1zM143 274h1v1h-1zM149 268h1v1h-1zM145 270h9v1h-9zM149 266h1v9h-1zM148 269h1v1h-1zM150 271h1v1h-1zM148 271h1v1h-1zM150 269h1v1h-1zM147 268h1v1h-1zM151 272h1v1h-1zM147 272h1v1h-1zM151 268h1v1h-1zM146 267h1v1h-1zM152 273h1v1h-1zM146 273h1v1h-1zM152 267h1v1h-1zM145 270h9v1h-9zM149 266h1v9h-1zM148 269h1v1h-1zM150 271h1v1h-1zM148 271h1v1h-1zM150 269h1v1h-1zM147 268h1v1h-1zM151 272h1v1h-1zM147 272h1v1h-1zM151 268h1v1h-1zM146 267h1v1h-1zM152 273h1v1h-1zM146 273h1v1h-1zM152 267h1v1h-1zM144 268h9v1h-9zM148 264h1v9h-1zM147 267h1v1h-1zM149 269h1v1h-1zM147 269h1v1h-1zM149 267h1v1h-1zM146 266h1v1h-1zM150 270h1v1h-1zM146 270h1v1h-1zM150 266h1v1h-1zM145 265h1v1h-1zM151 271h1v1h-1zM145 271h1v1h-1zM151 265h1v1h-1zM148 266h9v1h-9zM152 262h1v9h-1zM151 265h1v1h-1zM153 267h1v1h-1zM151 267h1v1h-1zM153 265h1v1h-1zM150 264h1v1h-1zM154 268h1v1h-1zM150 268h1v1h-1zM154 264h1v1h-1zM149 263h1v1h-1zM155 269h1v1h-1zM149 269h1v1h-1zM155 263h1v1h-1zM148 266h9v1h-9zM152 262h1v9h-1zM151 265h1v1h-1zM153 267h1v1h-1zM151 267h1v1h-1zM153 265h1v1h-1zM150 264h1v1h-1zM154 268h1v1h-1zM150 268h1v1h-1zM154 264h1v1h-1zM149 263h1v1h-1zM155 269h1v1h-1zM149 269h1v1h-1zM155 263h1v1h-1zM147 264h9v1h-9zM151 260h1v9h-1zM150 263h1v1h-1zM152 265h1v1h-1zM150 265h1v1h-1zM152 263h1v1h-1zM149 262h1v1h-1zM153 266h1v1h-1zM149 266h1v1h-1zM153 262h1v1h-1zM148 261h1v1h-1zM154 267h1v1h-1zM148 267h1v1h-1zM154 261h1v1h-1zM151 262h9v1h-9zM155 258h1v9h-1zM154 261h1v1h-1zM156 263h1v1h-1zM154 263h1v1h-1zM156 261h1v1h-1zM153 260h1v1h-1zM157 264h1v1h-1zM153 264h1v1h-1zM157 260h1v1h-1zM152 259h1v1h-1zM158 265h1v1h-1zM152 265h1v1h-1zM158 259h1v1h-1zM150 262h9v1h-9zM154 258h1v9h-1zM153 261h1v1h-1zM155 263h1v1h-1zM153 263h1v1h-1zM155 261h1v1h-1zM152 260h1v1h-1zM156 264h1v1h-1zM152 264h1v1h-1zM156 260h1v1h-1zM151 259h1v1h-1zM157 265h1v1h-1zM151 265h1v1h-1zM157 259h1v1h-1zM150 260h9v1h-9zM154 256h1v9h-1zM153 259h1v1h-1zM155 261h1v1h-1zM153 261h1v1h-1zM155 259h1v1h-1zM152 258h1v1h-1zM156 262h1v1h-1zM152 262h1v1h-1zM156 258h1v1h-1zM151 257h1v1h-1zM157 263h1v1h-1zM151 263h1v1h-1zM157 257h1v1h-1zM154 259h9v1h-9zM158 255h1v9h-1zM157 258h1v1h-1zM159 260h1v1h-1zM157 260h1v1h-1zM159 258h1v1h-1zM156 257h1v1h-1zM160 261h1v1h-1zM156 261h1v1h-1zM160 257h1v1h-1zM155 256h1v1h-1zM161 262h1v1h-1zM155 262h1v1h-1zM161 256h1v1h-1zM153 259h9v1h-9zM157 255h1v9h-1zM156 258h1v1h-1zM158 260h1v1h-1zM156 260h1v1h-1zM158 258h1v1h-1zM155 257h1v1h-1zM159 261h1v1h-1zM155 261h1v1h-1zM159 257h1v1h-1zM154 256h1v1h-1zM160 262h1v1h-1zM154 262h1v1h-1zM160 256h1v1h-1zM152 256h9v1h-9zM156 252h1v9h-1zM155 255h1v1h-1zM157 257h1v1h-1zM155 257h1v1h-1zM157 255h1v1h-1zM154 254h1v1h-1zM158 258h1v1h-1zM154 258h1v1h-1zM158 254h1v1h-1zM153 253h1v1h-1zM159 259h1v1h-1zM153 259h1v1h-1zM159 253h1v1h-1zM156 255h9v1h-9zM160 251h1v9h-1zM159 254h1v1h-1zM161 256h1v1h-1zM159 256h1v1h-1zM161 254h1v1h-1zM158 253h1v1h-1zM162 257h1v1h-1zM158 257h1v1h-1zM162 253h1v1h-1zM157 252h1v1h-1zM163 258h1v1h-1zM157 258h1v1h-1zM163 252h1v1h-1zM156 255h9v1h-9zM160 251h1v9h-1zM159 254h1v1h-1zM161 256h1v1h-1zM159 256h1v1h-1zM161 254h1v1h-1zM158 253h1v1h-1zM162 257h1v1h-1zM158 257h1v1h-1zM162 253h1v1h-1zM157 252h1v1h-1zM163 258h1v1h-1zM157 258h1v1h-1zM163 252h1v1h-1zM155 253h9v1h-9zM159 249h1v9h-1zM158 252h1v1h-1zM160 254h1v1h-1zM158 254h1v1h-1zM160 252h1v1h-1zM157 251h1v1h-1zM161 255h1v1h-1zM157 255h1v1h-1zM161 251h1v1h-1zM156 250h1v1h-1zM162 256h1v1h-1zM156 256h1v1h-1zM162 250h1v1h-1zM159 252h9v1h-9zM163 248h1v9h-1zM162 251h1v1h-1zM164 253h1v1h-1zM162 253h1v1h-1zM164 251h1v1h-1zM161 250h1v1h-1zM165 254h1v1h-1zM161 254h1v1h-1zM165 250h1v1h-1zM160 249h1v1h-1zM166 255h1v1h-1zM160 255h1v1h-1zM166 249h1v1h-1zM158 251h9v1h-9zM162 247h1v9h-1zM161 250h1v1h-1zM163 252h1v1h-1zM161 252h1v1h-1zM163 250h1v1h-1zM160 249h1v1h-1zM164 253h1v1h-1zM160 253h1v1h-1zM164 249h1v1h-1zM159 248h1v1h-1zM165 254h1v1h-1zM159 254h1v1h-1zM165 248h1v1h-1zM158 249h9v1h-9zM162 245h1v9h-1zM161 248h1v1h-1zM163 250h1v1h-1zM161 250h1v1h-1zM163 248h1v1h-1zM160 247h1v1h-1zM164 251h1v1h-1zM160 251h1v1h-1zM164 247h1v1h-1zM159 246h1v1h-1zM165 252h1v1h-1zM159 252h1v1h-1zM165 246h1v1h-1zM162 248h9v1h-9zM166 244h1v9h-1zM165 247h1v1h-1zM167 249h1v1h-1zM165 249h1v1h-1zM167 247h1v1h-1zM164 246h1v1h-1zM168 250h1v1h-1zM164 250h1v1h-1zM168 246h1v1h-1zM163 245h1v1h-1zM169 251h1v1h-1zM163 251h1v1h-1zM169 245h1v1h-1zM161 248h9v1h-9zM165 244h1v9h-1zM164 247h1v1h-1zM166 249h1v1h-1zM164 249h1v1h-1zM166 247h1v1h-1zM163 246h1v1h-1zM167 250h1v1h-1zM163 250h1v1h-1zM167 246h1v1h-1zM162 245h1v1h-1zM168 251h1v1h-1zM162 251h1v1h-1zM168 245h1v1h-1zM160 245h9v1h-9zM164 241h1v9h-1zM163 244h1v1h-1zM165 246h1v1h-1zM163 246h1v1h-1zM165 244h1v1h-1zM162 243h1v1h-1zM166 247h1v1h-1zM162 247h1v1h-1zM166 243h1v1h-1zM161 242h1v1h-1zM167 248h1v1h-1zM161 248h1v1h-1zM167 242h1v1h-1zM164 244h9v1h-9zM168 240h1v9h-1zM167 243h1v1h-1zM169 245h1v1h-1zM167 245h1v1h-1zM169 243h1v1h-1zM166 242h1v1h-1zM170 246h1v1h-1zM166 246h1v1h-1zM170 242h1v1h-1zM165 241h1v1h-1zM171 247h1v1h-1zM165 247h1v1h-1zM171 241h1v1h-1zM164 244h9v1h-9zM168 240h1v9h-1zM167 243h1v1h-1zM169 245h1v1h-1zM167 245h1v1h-1zM169 243h1v1h-1zM166 242h1v1h-1zM170 246h1v1h-1zM166 246h1v1h-1zM170 242h1v1h-1zM165 241h1v1h-1zM171 247h1v1h-1zM165 247h1v1h-1zM171 241h1v1h-1zM163 242h9v1h-9zM167 238h1v9h-1zM166 241h1v1h-1zM168 243h1v1h-1zM166 243h1v1h-1zM168 241h1v1h-1zM165 240h1v1h-1zM169 244h1v1h-1zM165 244h1v1h-1zM169 240h1v1h-1zM164 239h1v1h-1zM170 245h1v1h-1zM164 245h1v1h-1zM170 239h1v1h-1zM166 240h9v1h-9zM170 236h1v9h-1zM169 239h1v1h-1zM171 241h1v1h-1zM169 241h1v1h-1zM171 239h1v1h-1zM168 238h1v1h-1zM172 242h1v1h-1zM168 242h1v1h-1zM172 238h1v1h-1zM167 237h1v1h-1zM173 243h1v1h-1zM167 243h1v1h-1zM173 237h1v1h-1z" fill="#000"/></g>
</svg>
</body></html>
